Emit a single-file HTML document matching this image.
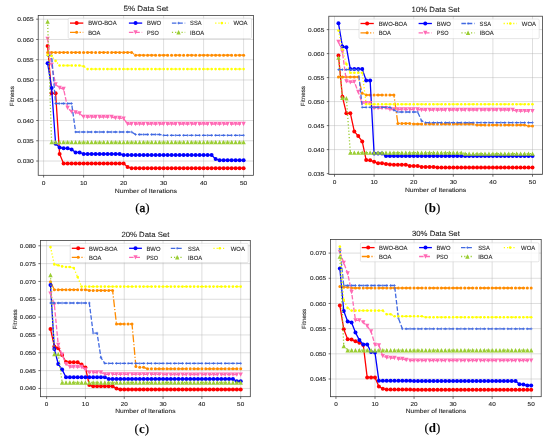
<!DOCTYPE html>
<html><head><meta charset="utf-8"><style>
html,body{margin:0;padding:0;background:#fff;}
svg{display:block;will-change:transform;}
text{font-family:"Liberation Sans",sans-serif;fill:#222;stroke:#222;stroke-width:0.09px;text-rendering:geometricPrecision;}
text.cap{font-family:"Liberation Serif",serif;fill:#000;stroke:#000;stroke-width:0.15px;}
</style></head><body>
<svg width="550" height="439" viewBox="0 0 550 439">
<path d="M43.60,15.60V175.30M83.60,15.60V175.30M123.60,15.60V175.30M163.60,15.60V175.30M203.60,15.60V175.30M243.60,15.60V175.30M38.20,161.02H253.60M38.20,140.76H253.60M38.20,120.50H253.60M38.20,100.24H253.60M38.20,79.98H253.60M38.20,59.72H253.60M38.20,39.46H253.60M38.20,19.20H253.60" stroke="#b0b0b0" stroke-opacity="0.7" stroke-width="0.6" fill="none"/>
<svg x="38.2" y="15.6" width="215.39999999999998" height="159.70000000000002" viewBox="38.2 15.6 215.39999999999998 159.70000000000002" overflow="hidden">
<polyline points="47.60,46.00 51.60,93.30 55.60,93.30 59.60,154.10 63.60,163.50 67.60,163.50 71.60,163.50 75.60,163.50 79.60,163.50 83.60,163.50 87.60,163.50 91.60,163.50 95.60,163.50 99.60,163.50 103.60,163.50 107.60,163.50 111.60,163.50 115.60,163.50 119.60,163.50 123.60,163.50 127.60,167.00 131.60,168.20 135.60,168.20 139.60,168.20 143.60,168.20 147.60,168.20 151.60,168.20 155.60,168.20 159.60,168.20 163.60,168.20 167.60,168.20 171.60,168.20 175.60,168.20 179.60,168.20 183.60,168.20 187.60,168.20 191.60,168.20 195.60,168.20 199.60,168.20 203.60,168.20 207.60,168.20 211.60,168.20 215.60,168.20 219.60,168.20 223.60,168.20 227.60,168.20 231.60,168.20 235.60,168.20 239.60,168.20 243.60,168.20" fill="none" stroke="#ff0000" stroke-width="1.3" stroke-linejoin="round"/>
<circle cx="47.60" cy="46.00" r="2.0" fill="#ff0000"/><circle cx="51.60" cy="93.30" r="2.0" fill="#ff0000"/><circle cx="55.60" cy="93.30" r="2.0" fill="#ff0000"/><circle cx="59.60" cy="154.10" r="2.0" fill="#ff0000"/><circle cx="63.60" cy="163.50" r="2.0" fill="#ff0000"/><circle cx="67.60" cy="163.50" r="2.0" fill="#ff0000"/><circle cx="71.60" cy="163.50" r="2.0" fill="#ff0000"/><circle cx="75.60" cy="163.50" r="2.0" fill="#ff0000"/><circle cx="79.60" cy="163.50" r="2.0" fill="#ff0000"/><circle cx="83.60" cy="163.50" r="2.0" fill="#ff0000"/><circle cx="87.60" cy="163.50" r="2.0" fill="#ff0000"/><circle cx="91.60" cy="163.50" r="2.0" fill="#ff0000"/><circle cx="95.60" cy="163.50" r="2.0" fill="#ff0000"/><circle cx="99.60" cy="163.50" r="2.0" fill="#ff0000"/><circle cx="103.60" cy="163.50" r="2.0" fill="#ff0000"/><circle cx="107.60" cy="163.50" r="2.0" fill="#ff0000"/><circle cx="111.60" cy="163.50" r="2.0" fill="#ff0000"/><circle cx="115.60" cy="163.50" r="2.0" fill="#ff0000"/><circle cx="119.60" cy="163.50" r="2.0" fill="#ff0000"/><circle cx="123.60" cy="163.50" r="2.0" fill="#ff0000"/><circle cx="127.60" cy="167.00" r="2.0" fill="#ff0000"/><circle cx="131.60" cy="168.20" r="2.0" fill="#ff0000"/><circle cx="135.60" cy="168.20" r="2.0" fill="#ff0000"/><circle cx="139.60" cy="168.20" r="2.0" fill="#ff0000"/><circle cx="143.60" cy="168.20" r="2.0" fill="#ff0000"/><circle cx="147.60" cy="168.20" r="2.0" fill="#ff0000"/><circle cx="151.60" cy="168.20" r="2.0" fill="#ff0000"/><circle cx="155.60" cy="168.20" r="2.0" fill="#ff0000"/><circle cx="159.60" cy="168.20" r="2.0" fill="#ff0000"/><circle cx="163.60" cy="168.20" r="2.0" fill="#ff0000"/><circle cx="167.60" cy="168.20" r="2.0" fill="#ff0000"/><circle cx="171.60" cy="168.20" r="2.0" fill="#ff0000"/><circle cx="175.60" cy="168.20" r="2.0" fill="#ff0000"/><circle cx="179.60" cy="168.20" r="2.0" fill="#ff0000"/><circle cx="183.60" cy="168.20" r="2.0" fill="#ff0000"/><circle cx="187.60" cy="168.20" r="2.0" fill="#ff0000"/><circle cx="191.60" cy="168.20" r="2.0" fill="#ff0000"/><circle cx="195.60" cy="168.20" r="2.0" fill="#ff0000"/><circle cx="199.60" cy="168.20" r="2.0" fill="#ff0000"/><circle cx="203.60" cy="168.20" r="2.0" fill="#ff0000"/><circle cx="207.60" cy="168.20" r="2.0" fill="#ff0000"/><circle cx="211.60" cy="168.20" r="2.0" fill="#ff0000"/><circle cx="215.60" cy="168.20" r="2.0" fill="#ff0000"/><circle cx="219.60" cy="168.20" r="2.0" fill="#ff0000"/><circle cx="223.60" cy="168.20" r="2.0" fill="#ff0000"/><circle cx="227.60" cy="168.20" r="2.0" fill="#ff0000"/><circle cx="231.60" cy="168.20" r="2.0" fill="#ff0000"/><circle cx="235.60" cy="168.20" r="2.0" fill="#ff0000"/><circle cx="239.60" cy="168.20" r="2.0" fill="#ff0000"/><circle cx="243.60" cy="168.20" r="2.0" fill="#ff0000"/>
<polyline points="47.60,52.40 51.60,52.40 55.60,52.40 59.60,52.40 63.60,52.40 67.60,52.40 71.60,52.40 75.60,52.40 79.60,52.40 83.60,52.40 87.60,52.40 91.60,52.40 95.60,52.40 99.60,52.40 103.60,52.40 107.60,52.40 111.60,52.40 115.60,52.40 119.60,52.40 123.60,52.40 127.60,52.40 131.60,52.40 135.60,55.20 139.60,55.20 143.60,55.20 147.60,55.20 151.60,55.20 155.60,55.20 159.60,55.20 163.60,55.20 167.60,55.20 171.60,55.20 175.60,55.20 179.60,55.20 183.60,55.20 187.60,55.20 191.60,55.20 195.60,55.20 199.60,55.20 203.60,55.20 207.60,55.20 211.60,55.20 215.60,55.20 219.60,55.20 223.60,55.20 227.60,55.20 231.60,55.20 235.60,55.20 239.60,55.20 243.60,55.20" fill="none" stroke="#ff8c00" stroke-width="1.3" stroke-dasharray="7.7,1.9,1.2,1.9" stroke-linejoin="round"/>
<circle cx="47.60" cy="52.40" r="1.5" fill="#ff8c00"/><circle cx="51.60" cy="52.40" r="1.5" fill="#ff8c00"/><circle cx="55.60" cy="52.40" r="1.5" fill="#ff8c00"/><circle cx="59.60" cy="52.40" r="1.5" fill="#ff8c00"/><circle cx="63.60" cy="52.40" r="1.5" fill="#ff8c00"/><circle cx="67.60" cy="52.40" r="1.5" fill="#ff8c00"/><circle cx="71.60" cy="52.40" r="1.5" fill="#ff8c00"/><circle cx="75.60" cy="52.40" r="1.5" fill="#ff8c00"/><circle cx="79.60" cy="52.40" r="1.5" fill="#ff8c00"/><circle cx="83.60" cy="52.40" r="1.5" fill="#ff8c00"/><circle cx="87.60" cy="52.40" r="1.5" fill="#ff8c00"/><circle cx="91.60" cy="52.40" r="1.5" fill="#ff8c00"/><circle cx="95.60" cy="52.40" r="1.5" fill="#ff8c00"/><circle cx="99.60" cy="52.40" r="1.5" fill="#ff8c00"/><circle cx="103.60" cy="52.40" r="1.5" fill="#ff8c00"/><circle cx="107.60" cy="52.40" r="1.5" fill="#ff8c00"/><circle cx="111.60" cy="52.40" r="1.5" fill="#ff8c00"/><circle cx="115.60" cy="52.40" r="1.5" fill="#ff8c00"/><circle cx="119.60" cy="52.40" r="1.5" fill="#ff8c00"/><circle cx="123.60" cy="52.40" r="1.5" fill="#ff8c00"/><circle cx="127.60" cy="52.40" r="1.5" fill="#ff8c00"/><circle cx="131.60" cy="52.40" r="1.5" fill="#ff8c00"/><circle cx="135.60" cy="55.20" r="1.5" fill="#ff8c00"/><circle cx="139.60" cy="55.20" r="1.5" fill="#ff8c00"/><circle cx="143.60" cy="55.20" r="1.5" fill="#ff8c00"/><circle cx="147.60" cy="55.20" r="1.5" fill="#ff8c00"/><circle cx="151.60" cy="55.20" r="1.5" fill="#ff8c00"/><circle cx="155.60" cy="55.20" r="1.5" fill="#ff8c00"/><circle cx="159.60" cy="55.20" r="1.5" fill="#ff8c00"/><circle cx="163.60" cy="55.20" r="1.5" fill="#ff8c00"/><circle cx="167.60" cy="55.20" r="1.5" fill="#ff8c00"/><circle cx="171.60" cy="55.20" r="1.5" fill="#ff8c00"/><circle cx="175.60" cy="55.20" r="1.5" fill="#ff8c00"/><circle cx="179.60" cy="55.20" r="1.5" fill="#ff8c00"/><circle cx="183.60" cy="55.20" r="1.5" fill="#ff8c00"/><circle cx="187.60" cy="55.20" r="1.5" fill="#ff8c00"/><circle cx="191.60" cy="55.20" r="1.5" fill="#ff8c00"/><circle cx="195.60" cy="55.20" r="1.5" fill="#ff8c00"/><circle cx="199.60" cy="55.20" r="1.5" fill="#ff8c00"/><circle cx="203.60" cy="55.20" r="1.5" fill="#ff8c00"/><circle cx="207.60" cy="55.20" r="1.5" fill="#ff8c00"/><circle cx="211.60" cy="55.20" r="1.5" fill="#ff8c00"/><circle cx="215.60" cy="55.20" r="1.5" fill="#ff8c00"/><circle cx="219.60" cy="55.20" r="1.5" fill="#ff8c00"/><circle cx="223.60" cy="55.20" r="1.5" fill="#ff8c00"/><circle cx="227.60" cy="55.20" r="1.5" fill="#ff8c00"/><circle cx="231.60" cy="55.20" r="1.5" fill="#ff8c00"/><circle cx="235.60" cy="55.20" r="1.5" fill="#ff8c00"/><circle cx="239.60" cy="55.20" r="1.5" fill="#ff8c00"/><circle cx="243.60" cy="55.20" r="1.5" fill="#ff8c00"/>
<polyline points="47.60,63.20 51.60,87.90 55.60,143.70 59.60,147.50 63.60,148.30 67.60,148.30 71.60,149.50 75.60,152.40 79.60,152.40 83.60,154.00 87.60,154.00 91.60,154.00 95.60,154.00 99.60,154.00 103.60,154.00 107.60,154.00 111.60,154.00 115.60,154.00 119.60,154.00 123.60,155.10 127.60,155.10 131.60,155.10 135.60,155.10 139.60,155.10 143.60,155.10 147.60,155.10 151.60,155.10 155.60,155.10 159.60,155.10 163.60,155.10 167.60,155.10 171.60,155.10 175.60,155.10 179.60,155.10 183.60,155.10 187.60,155.10 191.60,155.10 195.60,155.10 199.60,155.10 203.60,155.10 207.60,155.10 211.60,155.10 215.60,159.00 219.60,160.20 223.60,160.20 227.60,160.20 231.60,160.20 235.60,160.20 239.60,160.20 243.60,160.20" fill="none" stroke="#0000ff" stroke-width="1.3" stroke-linejoin="round"/>
<circle cx="47.60" cy="63.20" r="2.0" fill="#0000ff"/><circle cx="51.60" cy="87.90" r="2.0" fill="#0000ff"/><circle cx="55.60" cy="143.70" r="2.0" fill="#0000ff"/><circle cx="59.60" cy="147.50" r="2.0" fill="#0000ff"/><circle cx="63.60" cy="148.30" r="2.0" fill="#0000ff"/><circle cx="67.60" cy="148.30" r="2.0" fill="#0000ff"/><circle cx="71.60" cy="149.50" r="2.0" fill="#0000ff"/><circle cx="75.60" cy="152.40" r="2.0" fill="#0000ff"/><circle cx="79.60" cy="152.40" r="2.0" fill="#0000ff"/><circle cx="83.60" cy="154.00" r="2.0" fill="#0000ff"/><circle cx="87.60" cy="154.00" r="2.0" fill="#0000ff"/><circle cx="91.60" cy="154.00" r="2.0" fill="#0000ff"/><circle cx="95.60" cy="154.00" r="2.0" fill="#0000ff"/><circle cx="99.60" cy="154.00" r="2.0" fill="#0000ff"/><circle cx="103.60" cy="154.00" r="2.0" fill="#0000ff"/><circle cx="107.60" cy="154.00" r="2.0" fill="#0000ff"/><circle cx="111.60" cy="154.00" r="2.0" fill="#0000ff"/><circle cx="115.60" cy="154.00" r="2.0" fill="#0000ff"/><circle cx="119.60" cy="154.00" r="2.0" fill="#0000ff"/><circle cx="123.60" cy="155.10" r="2.0" fill="#0000ff"/><circle cx="127.60" cy="155.10" r="2.0" fill="#0000ff"/><circle cx="131.60" cy="155.10" r="2.0" fill="#0000ff"/><circle cx="135.60" cy="155.10" r="2.0" fill="#0000ff"/><circle cx="139.60" cy="155.10" r="2.0" fill="#0000ff"/><circle cx="143.60" cy="155.10" r="2.0" fill="#0000ff"/><circle cx="147.60" cy="155.10" r="2.0" fill="#0000ff"/><circle cx="151.60" cy="155.10" r="2.0" fill="#0000ff"/><circle cx="155.60" cy="155.10" r="2.0" fill="#0000ff"/><circle cx="159.60" cy="155.10" r="2.0" fill="#0000ff"/><circle cx="163.60" cy="155.10" r="2.0" fill="#0000ff"/><circle cx="167.60" cy="155.10" r="2.0" fill="#0000ff"/><circle cx="171.60" cy="155.10" r="2.0" fill="#0000ff"/><circle cx="175.60" cy="155.10" r="2.0" fill="#0000ff"/><circle cx="179.60" cy="155.10" r="2.0" fill="#0000ff"/><circle cx="183.60" cy="155.10" r="2.0" fill="#0000ff"/><circle cx="187.60" cy="155.10" r="2.0" fill="#0000ff"/><circle cx="191.60" cy="155.10" r="2.0" fill="#0000ff"/><circle cx="195.60" cy="155.10" r="2.0" fill="#0000ff"/><circle cx="199.60" cy="155.10" r="2.0" fill="#0000ff"/><circle cx="203.60" cy="155.10" r="2.0" fill="#0000ff"/><circle cx="207.60" cy="155.10" r="2.0" fill="#0000ff"/><circle cx="211.60" cy="155.10" r="2.0" fill="#0000ff"/><circle cx="215.60" cy="159.00" r="2.0" fill="#0000ff"/><circle cx="219.60" cy="160.20" r="2.0" fill="#0000ff"/><circle cx="223.60" cy="160.20" r="2.0" fill="#0000ff"/><circle cx="227.60" cy="160.20" r="2.0" fill="#0000ff"/><circle cx="231.60" cy="160.20" r="2.0" fill="#0000ff"/><circle cx="235.60" cy="160.20" r="2.0" fill="#0000ff"/><circle cx="239.60" cy="160.20" r="2.0" fill="#0000ff"/><circle cx="243.60" cy="160.20" r="2.0" fill="#0000ff"/>
<polyline points="47.60,39.00 51.60,65.00 55.60,84.40 59.60,87.90 63.60,89.00 67.60,107.80 71.60,111.80 75.60,112.50 79.60,113.50 83.60,117.00 87.60,117.00 91.60,117.00 95.60,117.00 99.60,117.00 103.60,117.00 107.60,117.00 111.60,117.00 115.60,118.00 119.60,118.00 123.60,118.60 127.60,124.00 131.60,124.00 135.60,124.00 139.60,124.00 143.60,124.00 147.60,124.00 151.60,124.00 155.60,124.00 159.60,124.00 163.60,124.00 167.60,124.00 171.60,124.00 175.60,124.00 179.60,124.00 183.60,124.00 187.60,124.00 191.60,124.00 195.60,124.00 199.60,124.00 203.60,124.00 207.60,124.00 211.60,124.00 215.60,124.00 219.60,124.00 223.60,124.00 227.60,124.00 231.60,124.00 235.60,124.00 239.60,124.00 243.60,124.00" fill="none" stroke="#ff69b4" stroke-width="1.3" stroke-dasharray="4.5,1.9" stroke-linejoin="round"/>
<path d="M47.60,41.15L45.45,36.85L49.75,36.85Z" fill="#ff69b4"/><path d="M51.60,67.15L49.45,62.85L53.75,62.85Z" fill="#ff69b4"/><path d="M55.60,86.55L53.45,82.25L57.75,82.25Z" fill="#ff69b4"/><path d="M59.60,90.05L57.45,85.75L61.75,85.75Z" fill="#ff69b4"/><path d="M63.60,91.15L61.45,86.85L65.75,86.85Z" fill="#ff69b4"/><path d="M67.60,109.95L65.45,105.65L69.75,105.65Z" fill="#ff69b4"/><path d="M71.60,113.95L69.45,109.65L73.75,109.65Z" fill="#ff69b4"/><path d="M75.60,114.65L73.45,110.35L77.75,110.35Z" fill="#ff69b4"/><path d="M79.60,115.65L77.45,111.35L81.75,111.35Z" fill="#ff69b4"/><path d="M83.60,119.15L81.45,114.85L85.75,114.85Z" fill="#ff69b4"/><path d="M87.60,119.15L85.45,114.85L89.75,114.85Z" fill="#ff69b4"/><path d="M91.60,119.15L89.45,114.85L93.75,114.85Z" fill="#ff69b4"/><path d="M95.60,119.15L93.45,114.85L97.75,114.85Z" fill="#ff69b4"/><path d="M99.60,119.15L97.45,114.85L101.75,114.85Z" fill="#ff69b4"/><path d="M103.60,119.15L101.45,114.85L105.75,114.85Z" fill="#ff69b4"/><path d="M107.60,119.15L105.45,114.85L109.75,114.85Z" fill="#ff69b4"/><path d="M111.60,119.15L109.45,114.85L113.75,114.85Z" fill="#ff69b4"/><path d="M115.60,120.15L113.45,115.85L117.75,115.85Z" fill="#ff69b4"/><path d="M119.60,120.15L117.45,115.85L121.75,115.85Z" fill="#ff69b4"/><path d="M123.60,120.75L121.45,116.45L125.75,116.45Z" fill="#ff69b4"/><path d="M127.60,126.15L125.45,121.85L129.75,121.85Z" fill="#ff69b4"/><path d="M131.60,126.15L129.45,121.85L133.75,121.85Z" fill="#ff69b4"/><path d="M135.60,126.15L133.45,121.85L137.75,121.85Z" fill="#ff69b4"/><path d="M139.60,126.15L137.45,121.85L141.75,121.85Z" fill="#ff69b4"/><path d="M143.60,126.15L141.45,121.85L145.75,121.85Z" fill="#ff69b4"/><path d="M147.60,126.15L145.45,121.85L149.75,121.85Z" fill="#ff69b4"/><path d="M151.60,126.15L149.45,121.85L153.75,121.85Z" fill="#ff69b4"/><path d="M155.60,126.15L153.45,121.85L157.75,121.85Z" fill="#ff69b4"/><path d="M159.60,126.15L157.45,121.85L161.75,121.85Z" fill="#ff69b4"/><path d="M163.60,126.15L161.45,121.85L165.75,121.85Z" fill="#ff69b4"/><path d="M167.60,126.15L165.45,121.85L169.75,121.85Z" fill="#ff69b4"/><path d="M171.60,126.15L169.45,121.85L173.75,121.85Z" fill="#ff69b4"/><path d="M175.60,126.15L173.45,121.85L177.75,121.85Z" fill="#ff69b4"/><path d="M179.60,126.15L177.45,121.85L181.75,121.85Z" fill="#ff69b4"/><path d="M183.60,126.15L181.45,121.85L185.75,121.85Z" fill="#ff69b4"/><path d="M187.60,126.15L185.45,121.85L189.75,121.85Z" fill="#ff69b4"/><path d="M191.60,126.15L189.45,121.85L193.75,121.85Z" fill="#ff69b4"/><path d="M195.60,126.15L193.45,121.85L197.75,121.85Z" fill="#ff69b4"/><path d="M199.60,126.15L197.45,121.85L201.75,121.85Z" fill="#ff69b4"/><path d="M203.60,126.15L201.45,121.85L205.75,121.85Z" fill="#ff69b4"/><path d="M207.60,126.15L205.45,121.85L209.75,121.85Z" fill="#ff69b4"/><path d="M211.60,126.15L209.45,121.85L213.75,121.85Z" fill="#ff69b4"/><path d="M215.60,126.15L213.45,121.85L217.75,121.85Z" fill="#ff69b4"/><path d="M219.60,126.15L217.45,121.85L221.75,121.85Z" fill="#ff69b4"/><path d="M223.60,126.15L221.45,121.85L225.75,121.85Z" fill="#ff69b4"/><path d="M227.60,126.15L225.45,121.85L229.75,121.85Z" fill="#ff69b4"/><path d="M231.60,126.15L229.45,121.85L233.75,121.85Z" fill="#ff69b4"/><path d="M235.60,126.15L233.45,121.85L237.75,121.85Z" fill="#ff69b4"/><path d="M239.60,126.15L237.45,121.85L241.75,121.85Z" fill="#ff69b4"/><path d="M243.60,126.15L241.45,121.85L245.75,121.85Z" fill="#ff69b4"/>
<polyline points="47.60,55.50 51.60,55.50 55.60,103.50 59.60,103.50 63.60,103.50 67.60,103.50 71.60,103.50 75.60,132.00 79.60,132.00 83.60,132.00 87.60,132.00 91.60,132.00 95.60,132.00 99.60,132.00 103.60,132.00 107.60,132.00 111.60,132.00 115.60,132.00 119.60,132.00 123.60,132.00 127.60,132.00 131.60,132.00 135.60,134.50 139.60,134.50 143.60,134.50 147.60,134.50 151.60,134.50 155.60,134.50 159.60,134.50 163.60,135.30 167.60,135.30 171.60,135.30 175.60,135.30 179.60,135.30 183.60,135.30 187.60,135.30 191.60,135.30 195.60,135.30 199.60,135.30 203.60,135.30 207.60,135.30 211.60,135.30 215.60,135.30 219.60,135.30 223.60,135.30 227.60,135.30 231.60,135.30 235.60,135.30 239.60,135.30 243.60,135.30" fill="none" stroke="#4169e1" stroke-width="1.3" stroke-dasharray="4.5,1.9" stroke-linejoin="round"/>
<path d="M46.30,55.50H48.90M47.60,54.20V56.80" stroke="#4169e1" stroke-width="0.7" fill="none"/><path d="M50.30,55.50H52.90M51.60,54.20V56.80" stroke="#4169e1" stroke-width="0.7" fill="none"/><path d="M54.30,103.50H56.90M55.60,102.20V104.80" stroke="#4169e1" stroke-width="0.7" fill="none"/><path d="M58.30,103.50H60.90M59.60,102.20V104.80" stroke="#4169e1" stroke-width="0.7" fill="none"/><path d="M62.30,103.50H64.90M63.60,102.20V104.80" stroke="#4169e1" stroke-width="0.7" fill="none"/><path d="M66.30,103.50H68.90M67.60,102.20V104.80" stroke="#4169e1" stroke-width="0.7" fill="none"/><path d="M70.30,103.50H72.90M71.60,102.20V104.80" stroke="#4169e1" stroke-width="0.7" fill="none"/><path d="M74.30,132.00H76.90M75.60,130.70V133.30" stroke="#4169e1" stroke-width="0.7" fill="none"/><path d="M78.30,132.00H80.90M79.60,130.70V133.30" stroke="#4169e1" stroke-width="0.7" fill="none"/><path d="M82.30,132.00H84.90M83.60,130.70V133.30" stroke="#4169e1" stroke-width="0.7" fill="none"/><path d="M86.30,132.00H88.90M87.60,130.70V133.30" stroke="#4169e1" stroke-width="0.7" fill="none"/><path d="M90.30,132.00H92.90M91.60,130.70V133.30" stroke="#4169e1" stroke-width="0.7" fill="none"/><path d="M94.30,132.00H96.90M95.60,130.70V133.30" stroke="#4169e1" stroke-width="0.7" fill="none"/><path d="M98.30,132.00H100.90M99.60,130.70V133.30" stroke="#4169e1" stroke-width="0.7" fill="none"/><path d="M102.30,132.00H104.90M103.60,130.70V133.30" stroke="#4169e1" stroke-width="0.7" fill="none"/><path d="M106.30,132.00H108.90M107.60,130.70V133.30" stroke="#4169e1" stroke-width="0.7" fill="none"/><path d="M110.30,132.00H112.90M111.60,130.70V133.30" stroke="#4169e1" stroke-width="0.7" fill="none"/><path d="M114.30,132.00H116.90M115.60,130.70V133.30" stroke="#4169e1" stroke-width="0.7" fill="none"/><path d="M118.30,132.00H120.90M119.60,130.70V133.30" stroke="#4169e1" stroke-width="0.7" fill="none"/><path d="M122.30,132.00H124.90M123.60,130.70V133.30" stroke="#4169e1" stroke-width="0.7" fill="none"/><path d="M126.30,132.00H128.90M127.60,130.70V133.30" stroke="#4169e1" stroke-width="0.7" fill="none"/><path d="M130.30,132.00H132.90M131.60,130.70V133.30" stroke="#4169e1" stroke-width="0.7" fill="none"/><path d="M134.30,134.50H136.90M135.60,133.20V135.80" stroke="#4169e1" stroke-width="0.7" fill="none"/><path d="M138.30,134.50H140.90M139.60,133.20V135.80" stroke="#4169e1" stroke-width="0.7" fill="none"/><path d="M142.30,134.50H144.90M143.60,133.20V135.80" stroke="#4169e1" stroke-width="0.7" fill="none"/><path d="M146.30,134.50H148.90M147.60,133.20V135.80" stroke="#4169e1" stroke-width="0.7" fill="none"/><path d="M150.30,134.50H152.90M151.60,133.20V135.80" stroke="#4169e1" stroke-width="0.7" fill="none"/><path d="M154.30,134.50H156.90M155.60,133.20V135.80" stroke="#4169e1" stroke-width="0.7" fill="none"/><path d="M158.30,134.50H160.90M159.60,133.20V135.80" stroke="#4169e1" stroke-width="0.7" fill="none"/><path d="M162.30,135.30H164.90M163.60,134.00V136.60" stroke="#4169e1" stroke-width="0.7" fill="none"/><path d="M166.30,135.30H168.90M167.60,134.00V136.60" stroke="#4169e1" stroke-width="0.7" fill="none"/><path d="M170.30,135.30H172.90M171.60,134.00V136.60" stroke="#4169e1" stroke-width="0.7" fill="none"/><path d="M174.30,135.30H176.90M175.60,134.00V136.60" stroke="#4169e1" stroke-width="0.7" fill="none"/><path d="M178.30,135.30H180.90M179.60,134.00V136.60" stroke="#4169e1" stroke-width="0.7" fill="none"/><path d="M182.30,135.30H184.90M183.60,134.00V136.60" stroke="#4169e1" stroke-width="0.7" fill="none"/><path d="M186.30,135.30H188.90M187.60,134.00V136.60" stroke="#4169e1" stroke-width="0.7" fill="none"/><path d="M190.30,135.30H192.90M191.60,134.00V136.60" stroke="#4169e1" stroke-width="0.7" fill="none"/><path d="M194.30,135.30H196.90M195.60,134.00V136.60" stroke="#4169e1" stroke-width="0.7" fill="none"/><path d="M198.30,135.30H200.90M199.60,134.00V136.60" stroke="#4169e1" stroke-width="0.7" fill="none"/><path d="M202.30,135.30H204.90M203.60,134.00V136.60" stroke="#4169e1" stroke-width="0.7" fill="none"/><path d="M206.30,135.30H208.90M207.60,134.00V136.60" stroke="#4169e1" stroke-width="0.7" fill="none"/><path d="M210.30,135.30H212.90M211.60,134.00V136.60" stroke="#4169e1" stroke-width="0.7" fill="none"/><path d="M214.30,135.30H216.90M215.60,134.00V136.60" stroke="#4169e1" stroke-width="0.7" fill="none"/><path d="M218.30,135.30H220.90M219.60,134.00V136.60" stroke="#4169e1" stroke-width="0.7" fill="none"/><path d="M222.30,135.30H224.90M223.60,134.00V136.60" stroke="#4169e1" stroke-width="0.7" fill="none"/><path d="M226.30,135.30H228.90M227.60,134.00V136.60" stroke="#4169e1" stroke-width="0.7" fill="none"/><path d="M230.30,135.30H232.90M231.60,134.00V136.60" stroke="#4169e1" stroke-width="0.7" fill="none"/><path d="M234.30,135.30H236.90M235.60,134.00V136.60" stroke="#4169e1" stroke-width="0.7" fill="none"/><path d="M238.30,135.30H240.90M239.60,134.00V136.60" stroke="#4169e1" stroke-width="0.7" fill="none"/><path d="M242.30,135.30H244.90M243.60,134.00V136.60" stroke="#4169e1" stroke-width="0.7" fill="none"/>
<polyline points="47.60,21.50 51.60,142.10 55.60,142.10 59.60,142.10 63.60,142.10 67.60,142.10 71.60,142.10 75.60,142.10 79.60,142.10 83.60,142.10 87.60,142.10 91.60,142.10 95.60,142.10 99.60,142.10 103.60,142.10 107.60,142.10 111.60,142.10 115.60,142.10 119.60,142.10 123.60,142.10 127.60,142.10 131.60,142.10 135.60,142.10 139.60,142.10 143.60,142.10 147.60,142.10 151.60,142.10 155.60,142.10 159.60,142.10 163.60,142.10 167.60,142.10 171.60,142.10 175.60,142.10 179.60,142.10 183.60,142.10 187.60,142.10 191.60,142.10 195.60,142.10 199.60,142.10 203.60,142.10 207.60,142.10 211.60,142.10 215.60,142.10 219.60,142.10 223.60,142.10 227.60,142.10 231.60,142.10 235.60,142.10 239.60,142.10 243.60,142.10" fill="none" stroke="#9acd32" stroke-width="1.3" stroke-dasharray="1.2,2.0" stroke-linejoin="round"/>
<path d="M47.60,19.30L45.40,23.70L49.80,23.70Z" fill="#9acd32"/><path d="M51.60,139.90L49.40,144.30L53.80,144.30Z" fill="#9acd32"/><path d="M55.60,139.90L53.40,144.30L57.80,144.30Z" fill="#9acd32"/><path d="M59.60,139.90L57.40,144.30L61.80,144.30Z" fill="#9acd32"/><path d="M63.60,139.90L61.40,144.30L65.80,144.30Z" fill="#9acd32"/><path d="M67.60,139.90L65.40,144.30L69.80,144.30Z" fill="#9acd32"/><path d="M71.60,139.90L69.40,144.30L73.80,144.30Z" fill="#9acd32"/><path d="M75.60,139.90L73.40,144.30L77.80,144.30Z" fill="#9acd32"/><path d="M79.60,139.90L77.40,144.30L81.80,144.30Z" fill="#9acd32"/><path d="M83.60,139.90L81.40,144.30L85.80,144.30Z" fill="#9acd32"/><path d="M87.60,139.90L85.40,144.30L89.80,144.30Z" fill="#9acd32"/><path d="M91.60,139.90L89.40,144.30L93.80,144.30Z" fill="#9acd32"/><path d="M95.60,139.90L93.40,144.30L97.80,144.30Z" fill="#9acd32"/><path d="M99.60,139.90L97.40,144.30L101.80,144.30Z" fill="#9acd32"/><path d="M103.60,139.90L101.40,144.30L105.80,144.30Z" fill="#9acd32"/><path d="M107.60,139.90L105.40,144.30L109.80,144.30Z" fill="#9acd32"/><path d="M111.60,139.90L109.40,144.30L113.80,144.30Z" fill="#9acd32"/><path d="M115.60,139.90L113.40,144.30L117.80,144.30Z" fill="#9acd32"/><path d="M119.60,139.90L117.40,144.30L121.80,144.30Z" fill="#9acd32"/><path d="M123.60,139.90L121.40,144.30L125.80,144.30Z" fill="#9acd32"/><path d="M127.60,139.90L125.40,144.30L129.80,144.30Z" fill="#9acd32"/><path d="M131.60,139.90L129.40,144.30L133.80,144.30Z" fill="#9acd32"/><path d="M135.60,139.90L133.40,144.30L137.80,144.30Z" fill="#9acd32"/><path d="M139.60,139.90L137.40,144.30L141.80,144.30Z" fill="#9acd32"/><path d="M143.60,139.90L141.40,144.30L145.80,144.30Z" fill="#9acd32"/><path d="M147.60,139.90L145.40,144.30L149.80,144.30Z" fill="#9acd32"/><path d="M151.60,139.90L149.40,144.30L153.80,144.30Z" fill="#9acd32"/><path d="M155.60,139.90L153.40,144.30L157.80,144.30Z" fill="#9acd32"/><path d="M159.60,139.90L157.40,144.30L161.80,144.30Z" fill="#9acd32"/><path d="M163.60,139.90L161.40,144.30L165.80,144.30Z" fill="#9acd32"/><path d="M167.60,139.90L165.40,144.30L169.80,144.30Z" fill="#9acd32"/><path d="M171.60,139.90L169.40,144.30L173.80,144.30Z" fill="#9acd32"/><path d="M175.60,139.90L173.40,144.30L177.80,144.30Z" fill="#9acd32"/><path d="M179.60,139.90L177.40,144.30L181.80,144.30Z" fill="#9acd32"/><path d="M183.60,139.90L181.40,144.30L185.80,144.30Z" fill="#9acd32"/><path d="M187.60,139.90L185.40,144.30L189.80,144.30Z" fill="#9acd32"/><path d="M191.60,139.90L189.40,144.30L193.80,144.30Z" fill="#9acd32"/><path d="M195.60,139.90L193.40,144.30L197.80,144.30Z" fill="#9acd32"/><path d="M199.60,139.90L197.40,144.30L201.80,144.30Z" fill="#9acd32"/><path d="M203.60,139.90L201.40,144.30L205.80,144.30Z" fill="#9acd32"/><path d="M207.60,139.90L205.40,144.30L209.80,144.30Z" fill="#9acd32"/><path d="M211.60,139.90L209.40,144.30L213.80,144.30Z" fill="#9acd32"/><path d="M215.60,139.90L213.40,144.30L217.80,144.30Z" fill="#9acd32"/><path d="M219.60,139.90L217.40,144.30L221.80,144.30Z" fill="#9acd32"/><path d="M223.60,139.90L221.40,144.30L225.80,144.30Z" fill="#9acd32"/><path d="M227.60,139.90L225.40,144.30L229.80,144.30Z" fill="#9acd32"/><path d="M231.60,139.90L229.40,144.30L233.80,144.30Z" fill="#9acd32"/><path d="M235.60,139.90L233.40,144.30L237.80,144.30Z" fill="#9acd32"/><path d="M239.60,139.90L237.40,144.30L241.80,144.30Z" fill="#9acd32"/><path d="M243.60,139.90L241.40,144.30L245.80,144.30Z" fill="#9acd32"/>
<polyline points="47.60,55.00 51.60,55.90 55.60,60.90 59.60,65.50 63.60,65.50 67.60,65.50 71.60,65.50 75.60,65.50 79.60,65.50 83.60,66.20 87.60,69.10 91.60,69.10 95.60,69.10 99.60,69.10 103.60,69.10 107.60,69.10 111.60,69.10 115.60,69.10 119.60,69.10 123.60,69.10 127.60,69.10 131.60,69.10 135.60,69.10 139.60,69.10 143.60,69.10 147.60,69.10 151.60,69.10 155.60,69.10 159.60,69.10 163.60,69.10 167.60,69.10 171.60,69.10 175.60,69.10 179.60,69.10 183.60,69.10 187.60,69.10 191.60,69.10 195.60,69.10 199.60,69.10 203.60,69.10 207.60,69.10 211.60,69.10 215.60,69.10 219.60,69.10 223.60,69.10 227.60,69.10 231.60,69.10 235.60,69.10 239.60,69.10 243.60,69.10" fill="none" stroke="#ffff00" stroke-width="1.3" stroke-dasharray="1.2,2.0" stroke-linejoin="round"/>
<circle cx="47.60" cy="55.00" r="1.3" fill="#ffff00"/><circle cx="51.60" cy="55.90" r="1.3" fill="#ffff00"/><circle cx="55.60" cy="60.90" r="1.3" fill="#ffff00"/><circle cx="59.60" cy="65.50" r="1.3" fill="#ffff00"/><circle cx="63.60" cy="65.50" r="1.3" fill="#ffff00"/><circle cx="67.60" cy="65.50" r="1.3" fill="#ffff00"/><circle cx="71.60" cy="65.50" r="1.3" fill="#ffff00"/><circle cx="75.60" cy="65.50" r="1.3" fill="#ffff00"/><circle cx="79.60" cy="65.50" r="1.3" fill="#ffff00"/><circle cx="83.60" cy="66.20" r="1.3" fill="#ffff00"/><circle cx="87.60" cy="69.10" r="1.3" fill="#ffff00"/><circle cx="91.60" cy="69.10" r="1.3" fill="#ffff00"/><circle cx="95.60" cy="69.10" r="1.3" fill="#ffff00"/><circle cx="99.60" cy="69.10" r="1.3" fill="#ffff00"/><circle cx="103.60" cy="69.10" r="1.3" fill="#ffff00"/><circle cx="107.60" cy="69.10" r="1.3" fill="#ffff00"/><circle cx="111.60" cy="69.10" r="1.3" fill="#ffff00"/><circle cx="115.60" cy="69.10" r="1.3" fill="#ffff00"/><circle cx="119.60" cy="69.10" r="1.3" fill="#ffff00"/><circle cx="123.60" cy="69.10" r="1.3" fill="#ffff00"/><circle cx="127.60" cy="69.10" r="1.3" fill="#ffff00"/><circle cx="131.60" cy="69.10" r="1.3" fill="#ffff00"/><circle cx="135.60" cy="69.10" r="1.3" fill="#ffff00"/><circle cx="139.60" cy="69.10" r="1.3" fill="#ffff00"/><circle cx="143.60" cy="69.10" r="1.3" fill="#ffff00"/><circle cx="147.60" cy="69.10" r="1.3" fill="#ffff00"/><circle cx="151.60" cy="69.10" r="1.3" fill="#ffff00"/><circle cx="155.60" cy="69.10" r="1.3" fill="#ffff00"/><circle cx="159.60" cy="69.10" r="1.3" fill="#ffff00"/><circle cx="163.60" cy="69.10" r="1.3" fill="#ffff00"/><circle cx="167.60" cy="69.10" r="1.3" fill="#ffff00"/><circle cx="171.60" cy="69.10" r="1.3" fill="#ffff00"/><circle cx="175.60" cy="69.10" r="1.3" fill="#ffff00"/><circle cx="179.60" cy="69.10" r="1.3" fill="#ffff00"/><circle cx="183.60" cy="69.10" r="1.3" fill="#ffff00"/><circle cx="187.60" cy="69.10" r="1.3" fill="#ffff00"/><circle cx="191.60" cy="69.10" r="1.3" fill="#ffff00"/><circle cx="195.60" cy="69.10" r="1.3" fill="#ffff00"/><circle cx="199.60" cy="69.10" r="1.3" fill="#ffff00"/><circle cx="203.60" cy="69.10" r="1.3" fill="#ffff00"/><circle cx="207.60" cy="69.10" r="1.3" fill="#ffff00"/><circle cx="211.60" cy="69.10" r="1.3" fill="#ffff00"/><circle cx="215.60" cy="69.10" r="1.3" fill="#ffff00"/><circle cx="219.60" cy="69.10" r="1.3" fill="#ffff00"/><circle cx="223.60" cy="69.10" r="1.3" fill="#ffff00"/><circle cx="227.60" cy="69.10" r="1.3" fill="#ffff00"/><circle cx="231.60" cy="69.10" r="1.3" fill="#ffff00"/><circle cx="235.60" cy="69.10" r="1.3" fill="#ffff00"/><circle cx="239.60" cy="69.10" r="1.3" fill="#ffff00"/><circle cx="243.60" cy="69.10" r="1.3" fill="#ffff00"/>
</svg>
<rect x="68.2" y="18.2" width="183.3" height="20.3" rx="1.2" fill="#fff" fill-opacity="0.8" stroke="#cccccc" stroke-width="0.5"/>
<path d="M70.00,23.10h13.3" stroke="#ff0000" stroke-width="1.3" fill="none"/>
<circle cx="76.65" cy="23.10" r="2.0" fill="#ff0000"/>
<text x="88.20" y="25.30" font-size="6.2" text-anchor="start" textLength="28.43" lengthAdjust="spacingAndGlyphs">BWO-BOA</text>
<path d="M70.00,32.30h13.3" stroke="#ff8c00" stroke-width="1.3" stroke-dasharray="7.7,1.9,1.2,1.9" fill="none"/>
<circle cx="76.65" cy="32.30" r="1.5" fill="#ff8c00"/>
<text x="88.20" y="34.50" font-size="6.2" text-anchor="start" textLength="12.31" lengthAdjust="spacingAndGlyphs">BOA</text>
<path d="M128.90,23.10h13.3" stroke="#0000ff" stroke-width="1.3" fill="none"/>
<circle cx="135.55" cy="23.10" r="2.0" fill="#0000ff"/>
<text x="147.10" y="25.30" font-size="6.2" text-anchor="start" textLength="14.07" lengthAdjust="spacingAndGlyphs">BWO</text>
<path d="M128.90,32.30h13.3" stroke="#ff69b4" stroke-width="1.3" stroke-dasharray="4.5,1.9" fill="none"/>
<path d="M135.55,34.45L133.40,30.15L137.70,30.15Z" fill="#ff69b4"/>
<text x="147.10" y="34.50" font-size="6.2" text-anchor="start" textLength="11.74" lengthAdjust="spacingAndGlyphs">PSO</text>
<path d="M171.90,23.10h13.3" stroke="#4169e1" stroke-width="1.3" stroke-dasharray="4.5,1.9" fill="none"/>
<path d="M177.25,23.10H179.85M178.55,21.80V24.40" stroke="#4169e1" stroke-width="0.7" fill="none"/>
<text x="190.10" y="25.30" font-size="6.2" text-anchor="start" textLength="11.44" lengthAdjust="spacingAndGlyphs">SSA</text>
<path d="M171.90,32.30h13.3" stroke="#9acd32" stroke-width="1.3" stroke-dasharray="1.2,2.0" fill="none"/>
<path d="M178.55,30.10L176.35,34.50L180.75,34.50Z" fill="#9acd32"/>
<text x="190.10" y="34.50" font-size="6.2" text-anchor="start" textLength="14.02" lengthAdjust="spacingAndGlyphs">IBOA</text>
<path d="M215.20,23.10h13.3" stroke="#ffff00" stroke-width="1.3" stroke-dasharray="1.2,2.0" fill="none"/>
<circle cx="221.85" cy="23.10" r="1.3" fill="#ffff00"/>
<text x="233.40" y="25.30" font-size="6.2" text-anchor="start" textLength="14.17" lengthAdjust="spacingAndGlyphs">WOA</text>
<rect x="38.2" y="15.6" width="215.40" height="159.70" fill="none" stroke="#333" stroke-width="0.75"/>
<path d="M43.60,175.30v2.2M83.60,175.30v2.2M123.60,175.30v2.2M163.60,175.30v2.2M203.60,175.30v2.2M243.60,175.30v2.2M38.20,161.02h-2.0M38.20,140.76h-2.0M38.20,120.50h-2.0M38.20,100.24h-2.0M38.20,79.98h-2.0M38.20,59.72h-2.0M38.20,39.46h-2.0M38.20,19.20h-2.0" stroke="#333" stroke-width="0.7" fill="none"/>
<text x="43.60" y="184.90" font-size="5.77" text-anchor="middle" textLength="3.67" lengthAdjust="spacingAndGlyphs">0</text>
<text x="83.60" y="184.90" font-size="5.77" text-anchor="middle" textLength="7.34" lengthAdjust="spacingAndGlyphs">10</text>
<text x="123.60" y="184.90" font-size="5.77" text-anchor="middle" textLength="7.34" lengthAdjust="spacingAndGlyphs">20</text>
<text x="163.60" y="184.90" font-size="5.77" text-anchor="middle" textLength="7.34" lengthAdjust="spacingAndGlyphs">30</text>
<text x="203.60" y="184.90" font-size="5.77" text-anchor="middle" textLength="7.34" lengthAdjust="spacingAndGlyphs">40</text>
<text x="243.60" y="184.90" font-size="5.77" text-anchor="middle" textLength="7.34" lengthAdjust="spacingAndGlyphs">50</text>
<text x="33.70" y="163.07" font-size="5.77" text-anchor="end" textLength="16.52" lengthAdjust="spacingAndGlyphs">0.030</text>
<text x="33.70" y="142.81" font-size="5.77" text-anchor="end" textLength="16.52" lengthAdjust="spacingAndGlyphs">0.035</text>
<text x="33.70" y="122.55" font-size="5.77" text-anchor="end" textLength="16.52" lengthAdjust="spacingAndGlyphs">0.040</text>
<text x="33.70" y="102.29" font-size="5.77" text-anchor="end" textLength="16.52" lengthAdjust="spacingAndGlyphs">0.045</text>
<text x="33.70" y="82.03" font-size="5.77" text-anchor="end" textLength="16.52" lengthAdjust="spacingAndGlyphs">0.050</text>
<text x="33.70" y="61.77" font-size="5.77" text-anchor="end" textLength="16.52" lengthAdjust="spacingAndGlyphs">0.055</text>
<text x="33.70" y="41.51" font-size="5.77" text-anchor="end" textLength="16.52" lengthAdjust="spacingAndGlyphs">0.060</text>
<text x="33.70" y="21.25" font-size="5.77" text-anchor="end" textLength="16.52" lengthAdjust="spacingAndGlyphs">0.065</text>
<text x="145.90" y="11.30" font-size="7.5" text-anchor="middle" textLength="44.83" lengthAdjust="spacingAndGlyphs">5% Data Set</text>
<text x="145.90" y="192.70" font-size="6.0" text-anchor="middle" textLength="62.28" lengthAdjust="spacingAndGlyphs">Number of Iterations</text>
<text x="0" y="0" font-size="6.0" text-anchor="middle" textLength="20.19" lengthAdjust="spacingAndGlyphs" transform="translate(13.70,96.25) rotate(-90)">Fitness</text>
<text x="142.40" y="211.80" font-size="13.0" text-anchor="middle" class="cap">(<tspan style="stroke-width:0.45px">a</tspan>)</text>
<path d="M334.50,16.20V174.50M374.10,16.20V174.50M413.70,16.20V174.50M453.30,16.20V174.50M492.90,16.20V174.50M532.50,16.20V174.50M328.80,173.60H542.40M328.80,149.60H542.40M328.80,125.60H542.40M328.80,101.60H542.40M328.80,77.60H542.40M328.80,53.60H542.40M328.80,29.60H542.40" stroke="#b0b0b0" stroke-opacity="0.7" stroke-width="0.6" fill="none"/>
<svg x="328.8" y="16.2" width="213.59999999999997" height="158.3" viewBox="328.8 16.2 213.59999999999997 158.3" overflow="hidden">
<polyline points="338.46,55.60 342.42,96.80 346.38,113.20 350.34,113.20 354.30,131.40 358.26,136.10 362.22,141.40 366.18,160.10 370.14,160.30 374.10,161.80 378.06,163.20 382.02,163.20 385.98,164.00 389.94,164.40 393.90,164.70 397.86,164.70 401.82,164.70 405.78,164.70 409.74,165.90 413.70,165.90 417.66,165.90 421.62,166.90 425.58,166.90 429.54,166.90 433.50,166.90 437.46,167.60 441.42,167.60 445.38,167.60 449.34,167.60 453.30,167.60 457.26,167.60 461.22,167.60 465.18,167.60 469.14,167.60 473.10,167.60 477.06,167.60 481.02,167.60 484.98,167.60 488.94,167.60 492.90,167.60 496.86,167.60 500.82,167.60 504.78,167.60 508.74,167.60 512.70,167.60 516.66,167.60 520.62,167.60 524.58,167.60 528.54,167.60 532.50,167.60" fill="none" stroke="#ff0000" stroke-width="1.3" stroke-linejoin="round"/>
<circle cx="338.46" cy="55.60" r="2.0" fill="#ff0000"/><circle cx="342.42" cy="96.80" r="2.0" fill="#ff0000"/><circle cx="346.38" cy="113.20" r="2.0" fill="#ff0000"/><circle cx="350.34" cy="113.20" r="2.0" fill="#ff0000"/><circle cx="354.30" cy="131.40" r="2.0" fill="#ff0000"/><circle cx="358.26" cy="136.10" r="2.0" fill="#ff0000"/><circle cx="362.22" cy="141.40" r="2.0" fill="#ff0000"/><circle cx="366.18" cy="160.10" r="2.0" fill="#ff0000"/><circle cx="370.14" cy="160.30" r="2.0" fill="#ff0000"/><circle cx="374.10" cy="161.80" r="2.0" fill="#ff0000"/><circle cx="378.06" cy="163.20" r="2.0" fill="#ff0000"/><circle cx="382.02" cy="163.20" r="2.0" fill="#ff0000"/><circle cx="385.98" cy="164.00" r="2.0" fill="#ff0000"/><circle cx="389.94" cy="164.40" r="2.0" fill="#ff0000"/><circle cx="393.90" cy="164.70" r="2.0" fill="#ff0000"/><circle cx="397.86" cy="164.70" r="2.0" fill="#ff0000"/><circle cx="401.82" cy="164.70" r="2.0" fill="#ff0000"/><circle cx="405.78" cy="164.70" r="2.0" fill="#ff0000"/><circle cx="409.74" cy="165.90" r="2.0" fill="#ff0000"/><circle cx="413.70" cy="165.90" r="2.0" fill="#ff0000"/><circle cx="417.66" cy="165.90" r="2.0" fill="#ff0000"/><circle cx="421.62" cy="166.90" r="2.0" fill="#ff0000"/><circle cx="425.58" cy="166.90" r="2.0" fill="#ff0000"/><circle cx="429.54" cy="166.90" r="2.0" fill="#ff0000"/><circle cx="433.50" cy="166.90" r="2.0" fill="#ff0000"/><circle cx="437.46" cy="167.60" r="2.0" fill="#ff0000"/><circle cx="441.42" cy="167.60" r="2.0" fill="#ff0000"/><circle cx="445.38" cy="167.60" r="2.0" fill="#ff0000"/><circle cx="449.34" cy="167.60" r="2.0" fill="#ff0000"/><circle cx="453.30" cy="167.60" r="2.0" fill="#ff0000"/><circle cx="457.26" cy="167.60" r="2.0" fill="#ff0000"/><circle cx="461.22" cy="167.60" r="2.0" fill="#ff0000"/><circle cx="465.18" cy="167.60" r="2.0" fill="#ff0000"/><circle cx="469.14" cy="167.60" r="2.0" fill="#ff0000"/><circle cx="473.10" cy="167.60" r="2.0" fill="#ff0000"/><circle cx="477.06" cy="167.60" r="2.0" fill="#ff0000"/><circle cx="481.02" cy="167.60" r="2.0" fill="#ff0000"/><circle cx="484.98" cy="167.60" r="2.0" fill="#ff0000"/><circle cx="488.94" cy="167.60" r="2.0" fill="#ff0000"/><circle cx="492.90" cy="167.60" r="2.0" fill="#ff0000"/><circle cx="496.86" cy="167.60" r="2.0" fill="#ff0000"/><circle cx="500.82" cy="167.60" r="2.0" fill="#ff0000"/><circle cx="504.78" cy="167.60" r="2.0" fill="#ff0000"/><circle cx="508.74" cy="167.60" r="2.0" fill="#ff0000"/><circle cx="512.70" cy="167.60" r="2.0" fill="#ff0000"/><circle cx="516.66" cy="167.60" r="2.0" fill="#ff0000"/><circle cx="520.62" cy="167.60" r="2.0" fill="#ff0000"/><circle cx="524.58" cy="167.60" r="2.0" fill="#ff0000"/><circle cx="528.54" cy="167.60" r="2.0" fill="#ff0000"/><circle cx="532.50" cy="167.60" r="2.0" fill="#ff0000"/>
<polyline points="338.46,77.00 342.42,77.00 346.38,77.00 350.34,77.00 354.30,77.00 358.26,77.00 362.22,93.30 366.18,95.00 370.14,95.00 374.10,95.00 378.06,95.00 382.02,95.00 385.98,95.00 389.94,95.00 393.90,95.00 397.86,123.40 401.82,123.40 405.78,123.40 409.74,123.40 413.70,124.00 417.66,124.00 421.62,124.00 425.58,124.00 429.54,124.00 433.50,124.00 437.46,124.00 441.42,124.00 445.38,124.00 449.34,124.00 453.30,124.00 457.26,124.00 461.22,124.00 465.18,124.00 469.14,124.00 473.10,124.00 477.06,125.00 481.02,125.00 484.98,125.00 488.94,125.00 492.90,125.00 496.86,125.00 500.82,125.00 504.78,125.00 508.74,125.00 512.70,125.00 516.66,125.00 520.62,125.00 524.58,125.00 528.54,126.10 532.50,126.10" fill="none" stroke="#ff8c00" stroke-width="1.3" stroke-dasharray="7.7,1.9,1.2,1.9" stroke-linejoin="round"/>
<circle cx="338.46" cy="77.00" r="1.5" fill="#ff8c00"/><circle cx="342.42" cy="77.00" r="1.5" fill="#ff8c00"/><circle cx="346.38" cy="77.00" r="1.5" fill="#ff8c00"/><circle cx="350.34" cy="77.00" r="1.5" fill="#ff8c00"/><circle cx="354.30" cy="77.00" r="1.5" fill="#ff8c00"/><circle cx="358.26" cy="77.00" r="1.5" fill="#ff8c00"/><circle cx="362.22" cy="93.30" r="1.5" fill="#ff8c00"/><circle cx="366.18" cy="95.00" r="1.5" fill="#ff8c00"/><circle cx="370.14" cy="95.00" r="1.5" fill="#ff8c00"/><circle cx="374.10" cy="95.00" r="1.5" fill="#ff8c00"/><circle cx="378.06" cy="95.00" r="1.5" fill="#ff8c00"/><circle cx="382.02" cy="95.00" r="1.5" fill="#ff8c00"/><circle cx="385.98" cy="95.00" r="1.5" fill="#ff8c00"/><circle cx="389.94" cy="95.00" r="1.5" fill="#ff8c00"/><circle cx="393.90" cy="95.00" r="1.5" fill="#ff8c00"/><circle cx="397.86" cy="123.40" r="1.5" fill="#ff8c00"/><circle cx="401.82" cy="123.40" r="1.5" fill="#ff8c00"/><circle cx="405.78" cy="123.40" r="1.5" fill="#ff8c00"/><circle cx="409.74" cy="123.40" r="1.5" fill="#ff8c00"/><circle cx="413.70" cy="124.00" r="1.5" fill="#ff8c00"/><circle cx="417.66" cy="124.00" r="1.5" fill="#ff8c00"/><circle cx="421.62" cy="124.00" r="1.5" fill="#ff8c00"/><circle cx="425.58" cy="124.00" r="1.5" fill="#ff8c00"/><circle cx="429.54" cy="124.00" r="1.5" fill="#ff8c00"/><circle cx="433.50" cy="124.00" r="1.5" fill="#ff8c00"/><circle cx="437.46" cy="124.00" r="1.5" fill="#ff8c00"/><circle cx="441.42" cy="124.00" r="1.5" fill="#ff8c00"/><circle cx="445.38" cy="124.00" r="1.5" fill="#ff8c00"/><circle cx="449.34" cy="124.00" r="1.5" fill="#ff8c00"/><circle cx="453.30" cy="124.00" r="1.5" fill="#ff8c00"/><circle cx="457.26" cy="124.00" r="1.5" fill="#ff8c00"/><circle cx="461.22" cy="124.00" r="1.5" fill="#ff8c00"/><circle cx="465.18" cy="124.00" r="1.5" fill="#ff8c00"/><circle cx="469.14" cy="124.00" r="1.5" fill="#ff8c00"/><circle cx="473.10" cy="124.00" r="1.5" fill="#ff8c00"/><circle cx="477.06" cy="125.00" r="1.5" fill="#ff8c00"/><circle cx="481.02" cy="125.00" r="1.5" fill="#ff8c00"/><circle cx="484.98" cy="125.00" r="1.5" fill="#ff8c00"/><circle cx="488.94" cy="125.00" r="1.5" fill="#ff8c00"/><circle cx="492.90" cy="125.00" r="1.5" fill="#ff8c00"/><circle cx="496.86" cy="125.00" r="1.5" fill="#ff8c00"/><circle cx="500.82" cy="125.00" r="1.5" fill="#ff8c00"/><circle cx="504.78" cy="125.00" r="1.5" fill="#ff8c00"/><circle cx="508.74" cy="125.00" r="1.5" fill="#ff8c00"/><circle cx="512.70" cy="125.00" r="1.5" fill="#ff8c00"/><circle cx="516.66" cy="125.00" r="1.5" fill="#ff8c00"/><circle cx="520.62" cy="125.00" r="1.5" fill="#ff8c00"/><circle cx="524.58" cy="125.00" r="1.5" fill="#ff8c00"/><circle cx="528.54" cy="126.10" r="1.5" fill="#ff8c00"/><circle cx="532.50" cy="126.10" r="1.5" fill="#ff8c00"/>
<polyline points="338.46,23.20 342.42,46.60 346.38,47.20 350.34,69.10 354.30,69.10 358.26,69.10 362.22,69.10 366.18,80.50 370.14,80.50 374.10,153.50 378.06,153.50 382.02,153.50 385.98,156.10 389.94,156.10 393.90,156.10 397.86,156.10 401.82,156.10 405.78,156.10 409.74,156.10 413.70,156.10 417.66,156.10 421.62,156.10 425.58,156.10 429.54,156.10 433.50,156.10 437.46,156.10 441.42,156.10 445.38,156.10 449.34,156.10 453.30,156.10 457.26,156.10 461.22,156.10 465.18,156.10 469.14,156.10 473.10,156.10 477.06,156.10 481.02,156.10 484.98,156.10 488.94,156.10 492.90,156.10 496.86,156.10 500.82,156.10 504.78,156.10 508.74,156.10 512.70,156.10 516.66,156.10 520.62,156.10 524.58,156.10 528.54,156.10 532.50,156.10" fill="none" stroke="#0000ff" stroke-width="1.3" stroke-linejoin="round"/>
<circle cx="338.46" cy="23.20" r="2.0" fill="#0000ff"/><circle cx="342.42" cy="46.60" r="2.0" fill="#0000ff"/><circle cx="346.38" cy="47.20" r="2.0" fill="#0000ff"/><circle cx="350.34" cy="69.10" r="2.0" fill="#0000ff"/><circle cx="354.30" cy="69.10" r="2.0" fill="#0000ff"/><circle cx="358.26" cy="69.10" r="2.0" fill="#0000ff"/><circle cx="362.22" cy="69.10" r="2.0" fill="#0000ff"/><circle cx="366.18" cy="80.50" r="2.0" fill="#0000ff"/><circle cx="370.14" cy="80.50" r="2.0" fill="#0000ff"/><circle cx="374.10" cy="153.50" r="2.0" fill="#0000ff"/><circle cx="378.06" cy="153.50" r="2.0" fill="#0000ff"/><circle cx="382.02" cy="153.50" r="2.0" fill="#0000ff"/><circle cx="385.98" cy="156.10" r="2.0" fill="#0000ff"/><circle cx="389.94" cy="156.10" r="2.0" fill="#0000ff"/><circle cx="393.90" cy="156.10" r="2.0" fill="#0000ff"/><circle cx="397.86" cy="156.10" r="2.0" fill="#0000ff"/><circle cx="401.82" cy="156.10" r="2.0" fill="#0000ff"/><circle cx="405.78" cy="156.10" r="2.0" fill="#0000ff"/><circle cx="409.74" cy="156.10" r="2.0" fill="#0000ff"/><circle cx="413.70" cy="156.10" r="2.0" fill="#0000ff"/><circle cx="417.66" cy="156.10" r="2.0" fill="#0000ff"/><circle cx="421.62" cy="156.10" r="2.0" fill="#0000ff"/><circle cx="425.58" cy="156.10" r="2.0" fill="#0000ff"/><circle cx="429.54" cy="156.10" r="2.0" fill="#0000ff"/><circle cx="433.50" cy="156.10" r="2.0" fill="#0000ff"/><circle cx="437.46" cy="156.10" r="2.0" fill="#0000ff"/><circle cx="441.42" cy="156.10" r="2.0" fill="#0000ff"/><circle cx="445.38" cy="156.10" r="2.0" fill="#0000ff"/><circle cx="449.34" cy="156.10" r="2.0" fill="#0000ff"/><circle cx="453.30" cy="156.10" r="2.0" fill="#0000ff"/><circle cx="457.26" cy="156.10" r="2.0" fill="#0000ff"/><circle cx="461.22" cy="156.10" r="2.0" fill="#0000ff"/><circle cx="465.18" cy="156.10" r="2.0" fill="#0000ff"/><circle cx="469.14" cy="156.10" r="2.0" fill="#0000ff"/><circle cx="473.10" cy="156.10" r="2.0" fill="#0000ff"/><circle cx="477.06" cy="156.10" r="2.0" fill="#0000ff"/><circle cx="481.02" cy="156.10" r="2.0" fill="#0000ff"/><circle cx="484.98" cy="156.10" r="2.0" fill="#0000ff"/><circle cx="488.94" cy="156.10" r="2.0" fill="#0000ff"/><circle cx="492.90" cy="156.10" r="2.0" fill="#0000ff"/><circle cx="496.86" cy="156.10" r="2.0" fill="#0000ff"/><circle cx="500.82" cy="156.10" r="2.0" fill="#0000ff"/><circle cx="504.78" cy="156.10" r="2.0" fill="#0000ff"/><circle cx="508.74" cy="156.10" r="2.0" fill="#0000ff"/><circle cx="512.70" cy="156.10" r="2.0" fill="#0000ff"/><circle cx="516.66" cy="156.10" r="2.0" fill="#0000ff"/><circle cx="520.62" cy="156.10" r="2.0" fill="#0000ff"/><circle cx="524.58" cy="156.10" r="2.0" fill="#0000ff"/><circle cx="528.54" cy="156.10" r="2.0" fill="#0000ff"/><circle cx="532.50" cy="156.10" r="2.0" fill="#0000ff"/>
<polyline points="338.46,41.80 342.42,52.00 346.38,81.40 350.34,82.30 354.30,81.90 358.26,92.00 362.22,103.20 366.18,103.20 370.14,103.20 374.10,108.10 378.06,108.10 382.02,108.10 385.98,108.10 389.94,109.50 393.90,109.50 397.86,109.50 401.82,109.50 405.78,109.50 409.74,109.50 413.70,109.50 417.66,109.50 421.62,110.00 425.58,110.00 429.54,110.00 433.50,110.00 437.46,110.00 441.42,110.00 445.38,110.00 449.34,110.00 453.30,110.00 457.26,110.00 461.22,110.00 465.18,110.00 469.14,110.00 473.10,110.00 477.06,110.00 481.02,110.00 484.98,110.00 488.94,110.00 492.90,110.00 496.86,110.00 500.82,110.00 504.78,110.00 508.74,110.00 512.70,110.00 516.66,111.20 520.62,111.20 524.58,111.20 528.54,111.20 532.50,111.20" fill="none" stroke="#ff69b4" stroke-width="1.3" stroke-dasharray="4.5,1.9" stroke-linejoin="round"/>
<path d="M338.46,43.95L336.31,39.65L340.61,39.65Z" fill="#ff69b4"/><path d="M342.42,54.15L340.27,49.85L344.57,49.85Z" fill="#ff69b4"/><path d="M346.38,83.55L344.23,79.25L348.53,79.25Z" fill="#ff69b4"/><path d="M350.34,84.45L348.19,80.15L352.49,80.15Z" fill="#ff69b4"/><path d="M354.30,84.05L352.15,79.75L356.45,79.75Z" fill="#ff69b4"/><path d="M358.26,94.15L356.11,89.85L360.41,89.85Z" fill="#ff69b4"/><path d="M362.22,105.35L360.07,101.05L364.37,101.05Z" fill="#ff69b4"/><path d="M366.18,105.35L364.03,101.05L368.33,101.05Z" fill="#ff69b4"/><path d="M370.14,105.35L367.99,101.05L372.29,101.05Z" fill="#ff69b4"/><path d="M374.10,110.25L371.95,105.95L376.25,105.95Z" fill="#ff69b4"/><path d="M378.06,110.25L375.91,105.95L380.21,105.95Z" fill="#ff69b4"/><path d="M382.02,110.25L379.87,105.95L384.17,105.95Z" fill="#ff69b4"/><path d="M385.98,110.25L383.83,105.95L388.13,105.95Z" fill="#ff69b4"/><path d="M389.94,111.65L387.79,107.35L392.09,107.35Z" fill="#ff69b4"/><path d="M393.90,111.65L391.75,107.35L396.05,107.35Z" fill="#ff69b4"/><path d="M397.86,111.65L395.71,107.35L400.01,107.35Z" fill="#ff69b4"/><path d="M401.82,111.65L399.67,107.35L403.97,107.35Z" fill="#ff69b4"/><path d="M405.78,111.65L403.63,107.35L407.93,107.35Z" fill="#ff69b4"/><path d="M409.74,111.65L407.59,107.35L411.89,107.35Z" fill="#ff69b4"/><path d="M413.70,111.65L411.55,107.35L415.85,107.35Z" fill="#ff69b4"/><path d="M417.66,111.65L415.51,107.35L419.81,107.35Z" fill="#ff69b4"/><path d="M421.62,112.15L419.47,107.85L423.77,107.85Z" fill="#ff69b4"/><path d="M425.58,112.15L423.43,107.85L427.73,107.85Z" fill="#ff69b4"/><path d="M429.54,112.15L427.39,107.85L431.69,107.85Z" fill="#ff69b4"/><path d="M433.50,112.15L431.35,107.85L435.65,107.85Z" fill="#ff69b4"/><path d="M437.46,112.15L435.31,107.85L439.61,107.85Z" fill="#ff69b4"/><path d="M441.42,112.15L439.27,107.85L443.57,107.85Z" fill="#ff69b4"/><path d="M445.38,112.15L443.23,107.85L447.53,107.85Z" fill="#ff69b4"/><path d="M449.34,112.15L447.19,107.85L451.49,107.85Z" fill="#ff69b4"/><path d="M453.30,112.15L451.15,107.85L455.45,107.85Z" fill="#ff69b4"/><path d="M457.26,112.15L455.11,107.85L459.41,107.85Z" fill="#ff69b4"/><path d="M461.22,112.15L459.07,107.85L463.37,107.85Z" fill="#ff69b4"/><path d="M465.18,112.15L463.03,107.85L467.33,107.85Z" fill="#ff69b4"/><path d="M469.14,112.15L466.99,107.85L471.29,107.85Z" fill="#ff69b4"/><path d="M473.10,112.15L470.95,107.85L475.25,107.85Z" fill="#ff69b4"/><path d="M477.06,112.15L474.91,107.85L479.21,107.85Z" fill="#ff69b4"/><path d="M481.02,112.15L478.87,107.85L483.17,107.85Z" fill="#ff69b4"/><path d="M484.98,112.15L482.83,107.85L487.13,107.85Z" fill="#ff69b4"/><path d="M488.94,112.15L486.79,107.85L491.09,107.85Z" fill="#ff69b4"/><path d="M492.90,112.15L490.75,107.85L495.05,107.85Z" fill="#ff69b4"/><path d="M496.86,112.15L494.71,107.85L499.01,107.85Z" fill="#ff69b4"/><path d="M500.82,112.15L498.67,107.85L502.97,107.85Z" fill="#ff69b4"/><path d="M504.78,112.15L502.63,107.85L506.93,107.85Z" fill="#ff69b4"/><path d="M508.74,112.15L506.59,107.85L510.89,107.85Z" fill="#ff69b4"/><path d="M512.70,112.15L510.55,107.85L514.85,107.85Z" fill="#ff69b4"/><path d="M516.66,113.35L514.51,109.05L518.81,109.05Z" fill="#ff69b4"/><path d="M520.62,113.35L518.47,109.05L522.77,109.05Z" fill="#ff69b4"/><path d="M524.58,113.35L522.43,109.05L526.73,109.05Z" fill="#ff69b4"/><path d="M528.54,113.35L526.39,109.05L530.69,109.05Z" fill="#ff69b4"/><path d="M532.50,113.35L530.35,109.05L534.65,109.05Z" fill="#ff69b4"/>
<polyline points="338.46,69.60 342.42,69.60 346.38,69.60 350.34,69.60 354.30,69.60 358.26,69.60 362.22,107.30 366.18,107.30 370.14,107.30 374.10,107.30 378.06,107.30 382.02,107.30 385.98,107.30 389.94,107.30 393.90,110.00 397.86,112.00 401.82,112.00 405.78,112.00 409.74,112.00 413.70,112.00 417.66,112.00 421.62,120.90 425.58,122.60 429.54,122.60 433.50,122.60 437.46,122.60 441.42,122.60 445.38,122.60 449.34,122.60 453.30,122.60 457.26,122.60 461.22,122.60 465.18,122.60 469.14,122.60 473.10,122.60 477.06,122.60 481.02,122.60 484.98,122.60 488.94,122.60 492.90,122.60 496.86,122.60 500.82,122.60 504.78,122.60 508.74,122.60 512.70,122.60 516.66,122.60 520.62,122.60 524.58,122.60 528.54,122.60 532.50,122.60" fill="none" stroke="#4169e1" stroke-width="1.3" stroke-dasharray="4.5,1.9" stroke-linejoin="round"/>
<path d="M337.16,69.60H339.76M338.46,68.30V70.90" stroke="#4169e1" stroke-width="0.7" fill="none"/><path d="M341.12,69.60H343.72M342.42,68.30V70.90" stroke="#4169e1" stroke-width="0.7" fill="none"/><path d="M345.08,69.60H347.68M346.38,68.30V70.90" stroke="#4169e1" stroke-width="0.7" fill="none"/><path d="M349.04,69.60H351.64M350.34,68.30V70.90" stroke="#4169e1" stroke-width="0.7" fill="none"/><path d="M353.00,69.60H355.60M354.30,68.30V70.90" stroke="#4169e1" stroke-width="0.7" fill="none"/><path d="M356.96,69.60H359.56M358.26,68.30V70.90" stroke="#4169e1" stroke-width="0.7" fill="none"/><path d="M360.92,107.30H363.52M362.22,106.00V108.60" stroke="#4169e1" stroke-width="0.7" fill="none"/><path d="M364.88,107.30H367.48M366.18,106.00V108.60" stroke="#4169e1" stroke-width="0.7" fill="none"/><path d="M368.84,107.30H371.44M370.14,106.00V108.60" stroke="#4169e1" stroke-width="0.7" fill="none"/><path d="M372.80,107.30H375.40M374.10,106.00V108.60" stroke="#4169e1" stroke-width="0.7" fill="none"/><path d="M376.76,107.30H379.36M378.06,106.00V108.60" stroke="#4169e1" stroke-width="0.7" fill="none"/><path d="M380.72,107.30H383.32M382.02,106.00V108.60" stroke="#4169e1" stroke-width="0.7" fill="none"/><path d="M384.68,107.30H387.28M385.98,106.00V108.60" stroke="#4169e1" stroke-width="0.7" fill="none"/><path d="M388.64,107.30H391.24M389.94,106.00V108.60" stroke="#4169e1" stroke-width="0.7" fill="none"/><path d="M392.60,110.00H395.20M393.90,108.70V111.30" stroke="#4169e1" stroke-width="0.7" fill="none"/><path d="M396.56,112.00H399.16M397.86,110.70V113.30" stroke="#4169e1" stroke-width="0.7" fill="none"/><path d="M400.52,112.00H403.12M401.82,110.70V113.30" stroke="#4169e1" stroke-width="0.7" fill="none"/><path d="M404.48,112.00H407.08M405.78,110.70V113.30" stroke="#4169e1" stroke-width="0.7" fill="none"/><path d="M408.44,112.00H411.04M409.74,110.70V113.30" stroke="#4169e1" stroke-width="0.7" fill="none"/><path d="M412.40,112.00H415.00M413.70,110.70V113.30" stroke="#4169e1" stroke-width="0.7" fill="none"/><path d="M416.36,112.00H418.96M417.66,110.70V113.30" stroke="#4169e1" stroke-width="0.7" fill="none"/><path d="M420.32,120.90H422.92M421.62,119.60V122.20" stroke="#4169e1" stroke-width="0.7" fill="none"/><path d="M424.28,122.60H426.88M425.58,121.30V123.90" stroke="#4169e1" stroke-width="0.7" fill="none"/><path d="M428.24,122.60H430.84M429.54,121.30V123.90" stroke="#4169e1" stroke-width="0.7" fill="none"/><path d="M432.20,122.60H434.80M433.50,121.30V123.90" stroke="#4169e1" stroke-width="0.7" fill="none"/><path d="M436.16,122.60H438.76M437.46,121.30V123.90" stroke="#4169e1" stroke-width="0.7" fill="none"/><path d="M440.12,122.60H442.72M441.42,121.30V123.90" stroke="#4169e1" stroke-width="0.7" fill="none"/><path d="M444.08,122.60H446.68M445.38,121.30V123.90" stroke="#4169e1" stroke-width="0.7" fill="none"/><path d="M448.04,122.60H450.64M449.34,121.30V123.90" stroke="#4169e1" stroke-width="0.7" fill="none"/><path d="M452.00,122.60H454.60M453.30,121.30V123.90" stroke="#4169e1" stroke-width="0.7" fill="none"/><path d="M455.96,122.60H458.56M457.26,121.30V123.90" stroke="#4169e1" stroke-width="0.7" fill="none"/><path d="M459.92,122.60H462.52M461.22,121.30V123.90" stroke="#4169e1" stroke-width="0.7" fill="none"/><path d="M463.88,122.60H466.48M465.18,121.30V123.90" stroke="#4169e1" stroke-width="0.7" fill="none"/><path d="M467.84,122.60H470.44M469.14,121.30V123.90" stroke="#4169e1" stroke-width="0.7" fill="none"/><path d="M471.80,122.60H474.40M473.10,121.30V123.90" stroke="#4169e1" stroke-width="0.7" fill="none"/><path d="M475.76,122.60H478.36M477.06,121.30V123.90" stroke="#4169e1" stroke-width="0.7" fill="none"/><path d="M479.72,122.60H482.32M481.02,121.30V123.90" stroke="#4169e1" stroke-width="0.7" fill="none"/><path d="M483.68,122.60H486.28M484.98,121.30V123.90" stroke="#4169e1" stroke-width="0.7" fill="none"/><path d="M487.64,122.60H490.24M488.94,121.30V123.90" stroke="#4169e1" stroke-width="0.7" fill="none"/><path d="M491.60,122.60H494.20M492.90,121.30V123.90" stroke="#4169e1" stroke-width="0.7" fill="none"/><path d="M495.56,122.60H498.16M496.86,121.30V123.90" stroke="#4169e1" stroke-width="0.7" fill="none"/><path d="M499.52,122.60H502.12M500.82,121.30V123.90" stroke="#4169e1" stroke-width="0.7" fill="none"/><path d="M503.48,122.60H506.08M504.78,121.30V123.90" stroke="#4169e1" stroke-width="0.7" fill="none"/><path d="M507.44,122.60H510.04M508.74,121.30V123.90" stroke="#4169e1" stroke-width="0.7" fill="none"/><path d="M511.40,122.60H514.00M512.70,121.30V123.90" stroke="#4169e1" stroke-width="0.7" fill="none"/><path d="M515.36,122.60H517.96M516.66,121.30V123.90" stroke="#4169e1" stroke-width="0.7" fill="none"/><path d="M519.32,122.60H521.92M520.62,121.30V123.90" stroke="#4169e1" stroke-width="0.7" fill="none"/><path d="M523.28,122.60H525.88M524.58,121.30V123.90" stroke="#4169e1" stroke-width="0.7" fill="none"/><path d="M527.24,122.60H529.84M528.54,121.30V123.90" stroke="#4169e1" stroke-width="0.7" fill="none"/><path d="M531.20,122.60H533.80M532.50,121.30V123.90" stroke="#4169e1" stroke-width="0.7" fill="none"/>
<polyline points="338.46,57.60 342.42,97.70 346.38,98.20 350.34,152.60 354.30,152.60 358.26,152.60 362.22,152.60 366.18,152.60 370.14,152.60 374.10,152.60 378.06,152.60 382.02,152.60 385.98,152.60 389.94,152.60 393.90,152.60 397.86,152.60 401.82,152.60 405.78,152.60 409.74,152.60 413.70,152.60 417.66,152.60 421.62,152.60 425.58,152.60 429.54,152.60 433.50,152.60 437.46,152.60 441.42,152.60 445.38,152.60 449.34,152.60 453.30,152.60 457.26,152.60 461.22,152.60 465.18,153.60 469.14,153.60 473.10,153.60 477.06,153.60 481.02,153.60 484.98,153.60 488.94,153.60 492.90,153.60 496.86,153.60 500.82,153.60 504.78,153.60 508.74,153.60 512.70,153.60 516.66,153.60 520.62,153.60 524.58,153.60 528.54,153.60 532.50,153.60" fill="none" stroke="#9acd32" stroke-width="1.3" stroke-dasharray="1.2,2.0" stroke-linejoin="round"/>
<path d="M338.46,55.40L336.26,59.80L340.66,59.80Z" fill="#9acd32"/><path d="M342.42,95.50L340.22,99.90L344.62,99.90Z" fill="#9acd32"/><path d="M346.38,96.00L344.18,100.40L348.58,100.40Z" fill="#9acd32"/><path d="M350.34,150.40L348.14,154.80L352.54,154.80Z" fill="#9acd32"/><path d="M354.30,150.40L352.10,154.80L356.50,154.80Z" fill="#9acd32"/><path d="M358.26,150.40L356.06,154.80L360.46,154.80Z" fill="#9acd32"/><path d="M362.22,150.40L360.02,154.80L364.42,154.80Z" fill="#9acd32"/><path d="M366.18,150.40L363.98,154.80L368.38,154.80Z" fill="#9acd32"/><path d="M370.14,150.40L367.94,154.80L372.34,154.80Z" fill="#9acd32"/><path d="M374.10,150.40L371.90,154.80L376.30,154.80Z" fill="#9acd32"/><path d="M378.06,150.40L375.86,154.80L380.26,154.80Z" fill="#9acd32"/><path d="M382.02,150.40L379.82,154.80L384.22,154.80Z" fill="#9acd32"/><path d="M385.98,150.40L383.78,154.80L388.18,154.80Z" fill="#9acd32"/><path d="M389.94,150.40L387.74,154.80L392.14,154.80Z" fill="#9acd32"/><path d="M393.90,150.40L391.70,154.80L396.10,154.80Z" fill="#9acd32"/><path d="M397.86,150.40L395.66,154.80L400.06,154.80Z" fill="#9acd32"/><path d="M401.82,150.40L399.62,154.80L404.02,154.80Z" fill="#9acd32"/><path d="M405.78,150.40L403.58,154.80L407.98,154.80Z" fill="#9acd32"/><path d="M409.74,150.40L407.54,154.80L411.94,154.80Z" fill="#9acd32"/><path d="M413.70,150.40L411.50,154.80L415.90,154.80Z" fill="#9acd32"/><path d="M417.66,150.40L415.46,154.80L419.86,154.80Z" fill="#9acd32"/><path d="M421.62,150.40L419.42,154.80L423.82,154.80Z" fill="#9acd32"/><path d="M425.58,150.40L423.38,154.80L427.78,154.80Z" fill="#9acd32"/><path d="M429.54,150.40L427.34,154.80L431.74,154.80Z" fill="#9acd32"/><path d="M433.50,150.40L431.30,154.80L435.70,154.80Z" fill="#9acd32"/><path d="M437.46,150.40L435.26,154.80L439.66,154.80Z" fill="#9acd32"/><path d="M441.42,150.40L439.22,154.80L443.62,154.80Z" fill="#9acd32"/><path d="M445.38,150.40L443.18,154.80L447.58,154.80Z" fill="#9acd32"/><path d="M449.34,150.40L447.14,154.80L451.54,154.80Z" fill="#9acd32"/><path d="M453.30,150.40L451.10,154.80L455.50,154.80Z" fill="#9acd32"/><path d="M457.26,150.40L455.06,154.80L459.46,154.80Z" fill="#9acd32"/><path d="M461.22,150.40L459.02,154.80L463.42,154.80Z" fill="#9acd32"/><path d="M465.18,151.40L462.98,155.80L467.38,155.80Z" fill="#9acd32"/><path d="M469.14,151.40L466.94,155.80L471.34,155.80Z" fill="#9acd32"/><path d="M473.10,151.40L470.90,155.80L475.30,155.80Z" fill="#9acd32"/><path d="M477.06,151.40L474.86,155.80L479.26,155.80Z" fill="#9acd32"/><path d="M481.02,151.40L478.82,155.80L483.22,155.80Z" fill="#9acd32"/><path d="M484.98,151.40L482.78,155.80L487.18,155.80Z" fill="#9acd32"/><path d="M488.94,151.40L486.74,155.80L491.14,155.80Z" fill="#9acd32"/><path d="M492.90,151.40L490.70,155.80L495.10,155.80Z" fill="#9acd32"/><path d="M496.86,151.40L494.66,155.80L499.06,155.80Z" fill="#9acd32"/><path d="M500.82,151.40L498.62,155.80L503.02,155.80Z" fill="#9acd32"/><path d="M504.78,151.40L502.58,155.80L506.98,155.80Z" fill="#9acd32"/><path d="M508.74,151.40L506.54,155.80L510.94,155.80Z" fill="#9acd32"/><path d="M512.70,151.40L510.50,155.80L514.90,155.80Z" fill="#9acd32"/><path d="M516.66,151.40L514.46,155.80L518.86,155.80Z" fill="#9acd32"/><path d="M520.62,151.40L518.42,155.80L522.82,155.80Z" fill="#9acd32"/><path d="M524.58,151.40L522.38,155.80L526.78,155.80Z" fill="#9acd32"/><path d="M528.54,151.40L526.34,155.80L530.74,155.80Z" fill="#9acd32"/><path d="M532.50,151.40L530.30,155.80L534.70,155.80Z" fill="#9acd32"/>
<polyline points="338.46,30.50 342.42,49.50 346.38,64.00 350.34,72.80 354.30,72.80 358.26,72.80 362.22,72.80 366.18,104.20 370.14,104.20 374.10,104.20 378.06,104.20 382.02,104.20 385.98,104.20 389.94,104.20 393.90,104.20 397.86,104.20 401.82,104.20 405.78,104.20 409.74,104.20 413.70,104.20 417.66,104.20 421.62,104.20 425.58,104.20 429.54,104.20 433.50,104.20 437.46,104.20 441.42,104.20 445.38,104.20 449.34,104.20 453.30,104.20 457.26,104.20 461.22,104.20 465.18,104.20 469.14,104.20 473.10,104.20 477.06,104.20 481.02,104.20 484.98,104.20 488.94,104.20 492.90,104.20 496.86,104.20 500.82,104.20 504.78,104.20 508.74,104.20 512.70,104.20 516.66,104.20 520.62,104.20 524.58,104.20 528.54,104.20 532.50,104.20" fill="none" stroke="#ffff00" stroke-width="1.3" stroke-dasharray="1.2,2.0" stroke-linejoin="round"/>
<circle cx="338.46" cy="30.50" r="1.3" fill="#ffff00"/><circle cx="342.42" cy="49.50" r="1.3" fill="#ffff00"/><circle cx="346.38" cy="64.00" r="1.3" fill="#ffff00"/><circle cx="350.34" cy="72.80" r="1.3" fill="#ffff00"/><circle cx="354.30" cy="72.80" r="1.3" fill="#ffff00"/><circle cx="358.26" cy="72.80" r="1.3" fill="#ffff00"/><circle cx="362.22" cy="72.80" r="1.3" fill="#ffff00"/><circle cx="366.18" cy="104.20" r="1.3" fill="#ffff00"/><circle cx="370.14" cy="104.20" r="1.3" fill="#ffff00"/><circle cx="374.10" cy="104.20" r="1.3" fill="#ffff00"/><circle cx="378.06" cy="104.20" r="1.3" fill="#ffff00"/><circle cx="382.02" cy="104.20" r="1.3" fill="#ffff00"/><circle cx="385.98" cy="104.20" r="1.3" fill="#ffff00"/><circle cx="389.94" cy="104.20" r="1.3" fill="#ffff00"/><circle cx="393.90" cy="104.20" r="1.3" fill="#ffff00"/><circle cx="397.86" cy="104.20" r="1.3" fill="#ffff00"/><circle cx="401.82" cy="104.20" r="1.3" fill="#ffff00"/><circle cx="405.78" cy="104.20" r="1.3" fill="#ffff00"/><circle cx="409.74" cy="104.20" r="1.3" fill="#ffff00"/><circle cx="413.70" cy="104.20" r="1.3" fill="#ffff00"/><circle cx="417.66" cy="104.20" r="1.3" fill="#ffff00"/><circle cx="421.62" cy="104.20" r="1.3" fill="#ffff00"/><circle cx="425.58" cy="104.20" r="1.3" fill="#ffff00"/><circle cx="429.54" cy="104.20" r="1.3" fill="#ffff00"/><circle cx="433.50" cy="104.20" r="1.3" fill="#ffff00"/><circle cx="437.46" cy="104.20" r="1.3" fill="#ffff00"/><circle cx="441.42" cy="104.20" r="1.3" fill="#ffff00"/><circle cx="445.38" cy="104.20" r="1.3" fill="#ffff00"/><circle cx="449.34" cy="104.20" r="1.3" fill="#ffff00"/><circle cx="453.30" cy="104.20" r="1.3" fill="#ffff00"/><circle cx="457.26" cy="104.20" r="1.3" fill="#ffff00"/><circle cx="461.22" cy="104.20" r="1.3" fill="#ffff00"/><circle cx="465.18" cy="104.20" r="1.3" fill="#ffff00"/><circle cx="469.14" cy="104.20" r="1.3" fill="#ffff00"/><circle cx="473.10" cy="104.20" r="1.3" fill="#ffff00"/><circle cx="477.06" cy="104.20" r="1.3" fill="#ffff00"/><circle cx="481.02" cy="104.20" r="1.3" fill="#ffff00"/><circle cx="484.98" cy="104.20" r="1.3" fill="#ffff00"/><circle cx="488.94" cy="104.20" r="1.3" fill="#ffff00"/><circle cx="492.90" cy="104.20" r="1.3" fill="#ffff00"/><circle cx="496.86" cy="104.20" r="1.3" fill="#ffff00"/><circle cx="500.82" cy="104.20" r="1.3" fill="#ffff00"/><circle cx="504.78" cy="104.20" r="1.3" fill="#ffff00"/><circle cx="508.74" cy="104.20" r="1.3" fill="#ffff00"/><circle cx="512.70" cy="104.20" r="1.3" fill="#ffff00"/><circle cx="516.66" cy="104.20" r="1.3" fill="#ffff00"/><circle cx="520.62" cy="104.20" r="1.3" fill="#ffff00"/><circle cx="524.58" cy="104.20" r="1.3" fill="#ffff00"/><circle cx="528.54" cy="104.20" r="1.3" fill="#ffff00"/><circle cx="532.50" cy="104.20" r="1.3" fill="#ffff00"/>
</svg>
<rect x="359.0" y="19.0" width="180.20000000000005" height="19.6" rx="1.2" fill="#fff" fill-opacity="0.8" stroke="#cccccc" stroke-width="0.5"/>
<path d="M360.50,23.50h13.3" stroke="#ff0000" stroke-width="1.3" fill="none"/>
<circle cx="367.15" cy="23.50" r="2.0" fill="#ff0000"/>
<text x="378.70" y="25.70" font-size="6.2" text-anchor="start" textLength="28.43" lengthAdjust="spacingAndGlyphs">BWO-BOA</text>
<path d="M360.50,32.80h13.3" stroke="#ff8c00" stroke-width="1.3" stroke-dasharray="7.7,1.9,1.2,1.9" fill="none"/>
<circle cx="367.15" cy="32.80" r="1.5" fill="#ff8c00"/>
<text x="378.70" y="35.00" font-size="6.2" text-anchor="start" textLength="12.31" lengthAdjust="spacingAndGlyphs">BOA</text>
<path d="M418.60,23.50h13.3" stroke="#0000ff" stroke-width="1.3" fill="none"/>
<circle cx="425.25" cy="23.50" r="2.0" fill="#0000ff"/>
<text x="436.80" y="25.70" font-size="6.2" text-anchor="start" textLength="14.07" lengthAdjust="spacingAndGlyphs">BWO</text>
<path d="M418.60,32.80h13.3" stroke="#ff69b4" stroke-width="1.3" stroke-dasharray="4.5,1.9" fill="none"/>
<path d="M425.25,34.95L423.10,30.65L427.40,30.65Z" fill="#ff69b4"/>
<text x="436.80" y="35.00" font-size="6.2" text-anchor="start" textLength="11.74" lengthAdjust="spacingAndGlyphs">PSO</text>
<path d="M461.40,23.50h13.3" stroke="#4169e1" stroke-width="1.3" stroke-dasharray="4.5,1.9" fill="none"/>
<path d="M466.75,23.50H469.35M468.05,22.20V24.80" stroke="#4169e1" stroke-width="0.7" fill="none"/>
<text x="479.60" y="25.70" font-size="6.2" text-anchor="start" textLength="11.44" lengthAdjust="spacingAndGlyphs">SSA</text>
<path d="M461.40,32.80h13.3" stroke="#9acd32" stroke-width="1.3" stroke-dasharray="1.2,2.0" fill="none"/>
<path d="M468.05,30.60L465.85,35.00L470.25,35.00Z" fill="#9acd32"/>
<text x="479.60" y="35.00" font-size="6.2" text-anchor="start" textLength="14.02" lengthAdjust="spacingAndGlyphs">IBOA</text>
<path d="M503.60,23.50h13.3" stroke="#ffff00" stroke-width="1.3" stroke-dasharray="1.2,2.0" fill="none"/>
<circle cx="510.25" cy="23.50" r="1.3" fill="#ffff00"/>
<text x="521.80" y="25.70" font-size="6.2" text-anchor="start" textLength="14.17" lengthAdjust="spacingAndGlyphs">WOA</text>
<rect x="328.8" y="16.2" width="213.60" height="158.30" fill="none" stroke="#333" stroke-width="0.75"/>
<path d="M334.50,174.50v2.2M374.10,174.50v2.2M413.70,174.50v2.2M453.30,174.50v2.2M492.90,174.50v2.2M532.50,174.50v2.2M328.80,173.60h-2.0M328.80,149.60h-2.0M328.80,125.60h-2.0M328.80,101.60h-2.0M328.80,77.60h-2.0M328.80,53.60h-2.0M328.80,29.60h-2.0" stroke="#333" stroke-width="0.7" fill="none"/>
<text x="334.50" y="184.10" font-size="5.77" text-anchor="middle" textLength="3.62" lengthAdjust="spacingAndGlyphs">0</text>
<text x="374.10" y="184.10" font-size="5.77" text-anchor="middle" textLength="7.23" lengthAdjust="spacingAndGlyphs">10</text>
<text x="413.70" y="184.10" font-size="5.77" text-anchor="middle" textLength="7.23" lengthAdjust="spacingAndGlyphs">20</text>
<text x="453.30" y="184.10" font-size="5.77" text-anchor="middle" textLength="7.23" lengthAdjust="spacingAndGlyphs">30</text>
<text x="492.90" y="184.10" font-size="5.77" text-anchor="middle" textLength="7.23" lengthAdjust="spacingAndGlyphs">40</text>
<text x="532.50" y="184.10" font-size="5.77" text-anchor="middle" textLength="7.23" lengthAdjust="spacingAndGlyphs">50</text>
<text x="324.30" y="175.65" font-size="5.77" text-anchor="end" textLength="16.27" lengthAdjust="spacingAndGlyphs">0.035</text>
<text x="324.30" y="151.65" font-size="5.77" text-anchor="end" textLength="16.27" lengthAdjust="spacingAndGlyphs">0.040</text>
<text x="324.30" y="127.65" font-size="5.77" text-anchor="end" textLength="16.27" lengthAdjust="spacingAndGlyphs">0.045</text>
<text x="324.30" y="103.65" font-size="5.77" text-anchor="end" textLength="16.27" lengthAdjust="spacingAndGlyphs">0.050</text>
<text x="324.30" y="79.65" font-size="5.77" text-anchor="end" textLength="16.27" lengthAdjust="spacingAndGlyphs">0.055</text>
<text x="324.30" y="55.65" font-size="5.77" text-anchor="end" textLength="16.27" lengthAdjust="spacingAndGlyphs">0.060</text>
<text x="324.30" y="31.65" font-size="5.77" text-anchor="end" textLength="16.27" lengthAdjust="spacingAndGlyphs">0.065</text>
<text x="435.60" y="11.90" font-size="7.5" text-anchor="middle" textLength="48.10" lengthAdjust="spacingAndGlyphs">10% Data Set</text>
<text x="435.60" y="191.90" font-size="6.0" text-anchor="middle" textLength="61.34" lengthAdjust="spacingAndGlyphs">Number of Iterations</text>
<text x="0" y="0" font-size="6.0" text-anchor="middle" textLength="20.19" lengthAdjust="spacingAndGlyphs" transform="translate(304.50,96.15) rotate(-90)">Fitness</text>
<text x="432.40" y="211.80" font-size="13.0" text-anchor="middle" class="cap">(<tspan font-weight="bold" style="stroke-width:0">b</tspan>)</text>
<path d="M46.60,240.50V396.70M85.42,240.50V396.70M124.24,240.50V396.70M163.06,240.50V396.70M201.88,240.50V396.70M240.70,240.50V396.70M40.40,388.44H250.30M40.40,370.61H250.30M40.40,352.78H250.30M40.40,334.95H250.30M40.40,317.12H250.30M40.40,299.29H250.30M40.40,281.46H250.30M40.40,263.63H250.30M40.40,245.80H250.30" stroke="#b0b0b0" stroke-opacity="0.7" stroke-width="0.6" fill="none"/>
<svg x="40.4" y="240.5" width="209.9" height="156.2" viewBox="40.4 240.5 209.9 156.2" overflow="hidden">
<polyline points="50.48,328.90 54.36,346.40 58.25,348.20 62.13,355.00 66.01,362.00 69.89,362.30 73.77,362.30 77.66,362.30 81.54,364.60 85.42,367.60 89.30,385.00 93.18,386.30 97.07,386.30 100.95,386.30 104.83,386.30 108.71,386.30 112.59,386.30 116.48,388.50 120.36,389.50 124.24,389.50 128.12,389.50 132.00,389.50 135.89,389.50 139.77,389.50 143.65,389.50 147.53,389.50 151.41,389.50 155.30,389.50 159.18,389.50 163.06,389.50 166.94,389.50 170.82,389.50 174.71,389.50 178.59,389.50 182.47,389.50 186.35,389.50 190.23,389.50 194.12,389.50 198.00,389.50 201.88,389.50 205.76,389.50 209.64,389.50 213.53,389.50 217.41,389.50 221.29,389.50 225.17,389.50 229.05,389.50 232.94,389.50 236.82,389.50 240.70,389.50" fill="none" stroke="#ff0000" stroke-width="1.3" stroke-linejoin="round"/>
<circle cx="50.48" cy="328.90" r="2.0" fill="#ff0000"/><circle cx="54.36" cy="346.40" r="2.0" fill="#ff0000"/><circle cx="58.25" cy="348.20" r="2.0" fill="#ff0000"/><circle cx="62.13" cy="355.00" r="2.0" fill="#ff0000"/><circle cx="66.01" cy="362.00" r="2.0" fill="#ff0000"/><circle cx="69.89" cy="362.30" r="2.0" fill="#ff0000"/><circle cx="73.77" cy="362.30" r="2.0" fill="#ff0000"/><circle cx="77.66" cy="362.30" r="2.0" fill="#ff0000"/><circle cx="81.54" cy="364.60" r="2.0" fill="#ff0000"/><circle cx="85.42" cy="367.60" r="2.0" fill="#ff0000"/><circle cx="89.30" cy="385.00" r="2.0" fill="#ff0000"/><circle cx="93.18" cy="386.30" r="2.0" fill="#ff0000"/><circle cx="97.07" cy="386.30" r="2.0" fill="#ff0000"/><circle cx="100.95" cy="386.30" r="2.0" fill="#ff0000"/><circle cx="104.83" cy="386.30" r="2.0" fill="#ff0000"/><circle cx="108.71" cy="386.30" r="2.0" fill="#ff0000"/><circle cx="112.59" cy="386.30" r="2.0" fill="#ff0000"/><circle cx="116.48" cy="388.50" r="2.0" fill="#ff0000"/><circle cx="120.36" cy="389.50" r="2.0" fill="#ff0000"/><circle cx="124.24" cy="389.50" r="2.0" fill="#ff0000"/><circle cx="128.12" cy="389.50" r="2.0" fill="#ff0000"/><circle cx="132.00" cy="389.50" r="2.0" fill="#ff0000"/><circle cx="135.89" cy="389.50" r="2.0" fill="#ff0000"/><circle cx="139.77" cy="389.50" r="2.0" fill="#ff0000"/><circle cx="143.65" cy="389.50" r="2.0" fill="#ff0000"/><circle cx="147.53" cy="389.50" r="2.0" fill="#ff0000"/><circle cx="151.41" cy="389.50" r="2.0" fill="#ff0000"/><circle cx="155.30" cy="389.50" r="2.0" fill="#ff0000"/><circle cx="159.18" cy="389.50" r="2.0" fill="#ff0000"/><circle cx="163.06" cy="389.50" r="2.0" fill="#ff0000"/><circle cx="166.94" cy="389.50" r="2.0" fill="#ff0000"/><circle cx="170.82" cy="389.50" r="2.0" fill="#ff0000"/><circle cx="174.71" cy="389.50" r="2.0" fill="#ff0000"/><circle cx="178.59" cy="389.50" r="2.0" fill="#ff0000"/><circle cx="182.47" cy="389.50" r="2.0" fill="#ff0000"/><circle cx="186.35" cy="389.50" r="2.0" fill="#ff0000"/><circle cx="190.23" cy="389.50" r="2.0" fill="#ff0000"/><circle cx="194.12" cy="389.50" r="2.0" fill="#ff0000"/><circle cx="198.00" cy="389.50" r="2.0" fill="#ff0000"/><circle cx="201.88" cy="389.50" r="2.0" fill="#ff0000"/><circle cx="205.76" cy="389.50" r="2.0" fill="#ff0000"/><circle cx="209.64" cy="389.50" r="2.0" fill="#ff0000"/><circle cx="213.53" cy="389.50" r="2.0" fill="#ff0000"/><circle cx="217.41" cy="389.50" r="2.0" fill="#ff0000"/><circle cx="221.29" cy="389.50" r="2.0" fill="#ff0000"/><circle cx="225.17" cy="389.50" r="2.0" fill="#ff0000"/><circle cx="229.05" cy="389.50" r="2.0" fill="#ff0000"/><circle cx="232.94" cy="389.50" r="2.0" fill="#ff0000"/><circle cx="236.82" cy="389.50" r="2.0" fill="#ff0000"/><circle cx="240.70" cy="389.50" r="2.0" fill="#ff0000"/>
<polyline points="50.48,281.80 54.36,289.70 58.25,289.70 62.13,289.70 66.01,289.70 69.89,289.70 73.77,289.70 77.66,289.70 81.54,289.70 85.42,289.70 89.30,290.40 93.18,290.40 97.07,290.40 100.95,290.40 104.83,290.40 108.71,290.40 112.59,290.40 116.48,324.00 120.36,324.00 124.24,324.00 128.12,324.00 132.00,324.00 135.89,366.40 139.77,367.30 143.65,367.30 147.53,368.80 151.41,368.80 155.30,368.80 159.18,368.80 163.06,368.80 166.94,368.80 170.82,368.80 174.71,368.80 178.59,368.80 182.47,368.80 186.35,368.80 190.23,368.80 194.12,368.80 198.00,368.80 201.88,368.80 205.76,368.80 209.64,368.80 213.53,368.80 217.41,368.80 221.29,368.80 225.17,368.80 229.05,368.80 232.94,368.80 236.82,368.80 240.70,368.80" fill="none" stroke="#ff8c00" stroke-width="1.3" stroke-dasharray="7.7,1.9,1.2,1.9" stroke-linejoin="round"/>
<circle cx="50.48" cy="281.80" r="1.5" fill="#ff8c00"/><circle cx="54.36" cy="289.70" r="1.5" fill="#ff8c00"/><circle cx="58.25" cy="289.70" r="1.5" fill="#ff8c00"/><circle cx="62.13" cy="289.70" r="1.5" fill="#ff8c00"/><circle cx="66.01" cy="289.70" r="1.5" fill="#ff8c00"/><circle cx="69.89" cy="289.70" r="1.5" fill="#ff8c00"/><circle cx="73.77" cy="289.70" r="1.5" fill="#ff8c00"/><circle cx="77.66" cy="289.70" r="1.5" fill="#ff8c00"/><circle cx="81.54" cy="289.70" r="1.5" fill="#ff8c00"/><circle cx="85.42" cy="289.70" r="1.5" fill="#ff8c00"/><circle cx="89.30" cy="290.40" r="1.5" fill="#ff8c00"/><circle cx="93.18" cy="290.40" r="1.5" fill="#ff8c00"/><circle cx="97.07" cy="290.40" r="1.5" fill="#ff8c00"/><circle cx="100.95" cy="290.40" r="1.5" fill="#ff8c00"/><circle cx="104.83" cy="290.40" r="1.5" fill="#ff8c00"/><circle cx="108.71" cy="290.40" r="1.5" fill="#ff8c00"/><circle cx="112.59" cy="290.40" r="1.5" fill="#ff8c00"/><circle cx="116.48" cy="324.00" r="1.5" fill="#ff8c00"/><circle cx="120.36" cy="324.00" r="1.5" fill="#ff8c00"/><circle cx="124.24" cy="324.00" r="1.5" fill="#ff8c00"/><circle cx="128.12" cy="324.00" r="1.5" fill="#ff8c00"/><circle cx="132.00" cy="324.00" r="1.5" fill="#ff8c00"/><circle cx="135.89" cy="366.40" r="1.5" fill="#ff8c00"/><circle cx="139.77" cy="367.30" r="1.5" fill="#ff8c00"/><circle cx="143.65" cy="367.30" r="1.5" fill="#ff8c00"/><circle cx="147.53" cy="368.80" r="1.5" fill="#ff8c00"/><circle cx="151.41" cy="368.80" r="1.5" fill="#ff8c00"/><circle cx="155.30" cy="368.80" r="1.5" fill="#ff8c00"/><circle cx="159.18" cy="368.80" r="1.5" fill="#ff8c00"/><circle cx="163.06" cy="368.80" r="1.5" fill="#ff8c00"/><circle cx="166.94" cy="368.80" r="1.5" fill="#ff8c00"/><circle cx="170.82" cy="368.80" r="1.5" fill="#ff8c00"/><circle cx="174.71" cy="368.80" r="1.5" fill="#ff8c00"/><circle cx="178.59" cy="368.80" r="1.5" fill="#ff8c00"/><circle cx="182.47" cy="368.80" r="1.5" fill="#ff8c00"/><circle cx="186.35" cy="368.80" r="1.5" fill="#ff8c00"/><circle cx="190.23" cy="368.80" r="1.5" fill="#ff8c00"/><circle cx="194.12" cy="368.80" r="1.5" fill="#ff8c00"/><circle cx="198.00" cy="368.80" r="1.5" fill="#ff8c00"/><circle cx="201.88" cy="368.80" r="1.5" fill="#ff8c00"/><circle cx="205.76" cy="368.80" r="1.5" fill="#ff8c00"/><circle cx="209.64" cy="368.80" r="1.5" fill="#ff8c00"/><circle cx="213.53" cy="368.80" r="1.5" fill="#ff8c00"/><circle cx="217.41" cy="368.80" r="1.5" fill="#ff8c00"/><circle cx="221.29" cy="368.80" r="1.5" fill="#ff8c00"/><circle cx="225.17" cy="368.80" r="1.5" fill="#ff8c00"/><circle cx="229.05" cy="368.80" r="1.5" fill="#ff8c00"/><circle cx="232.94" cy="368.80" r="1.5" fill="#ff8c00"/><circle cx="236.82" cy="368.80" r="1.5" fill="#ff8c00"/><circle cx="240.70" cy="368.80" r="1.5" fill="#ff8c00"/>
<polyline points="50.48,285.00 54.36,349.10 58.25,364.00 62.13,369.60 66.01,377.30 69.89,377.30 73.77,377.30 77.66,377.30 81.54,377.30 85.42,377.30 89.30,377.30 93.18,377.30 97.07,377.30 100.95,377.30 104.83,377.30 108.71,379.00 112.59,379.00 116.48,379.00 120.36,379.00 124.24,379.00 128.12,379.00 132.00,379.00 135.89,379.00 139.77,379.00 143.65,379.00 147.53,379.00 151.41,379.00 155.30,379.00 159.18,379.00 163.06,379.00 166.94,379.00 170.82,379.00 174.71,379.00 178.59,379.00 182.47,379.00 186.35,379.00 190.23,379.00 194.12,379.00 198.00,379.00 201.88,379.00 205.76,379.00 209.64,379.00 213.53,379.00 217.41,379.00 221.29,379.00 225.17,379.00 229.05,379.00 232.94,379.00 236.82,381.20 240.70,381.20" fill="none" stroke="#0000ff" stroke-width="1.3" stroke-linejoin="round"/>
<circle cx="50.48" cy="285.00" r="2.0" fill="#0000ff"/><circle cx="54.36" cy="349.10" r="2.0" fill="#0000ff"/><circle cx="58.25" cy="364.00" r="2.0" fill="#0000ff"/><circle cx="62.13" cy="369.60" r="2.0" fill="#0000ff"/><circle cx="66.01" cy="377.30" r="2.0" fill="#0000ff"/><circle cx="69.89" cy="377.30" r="2.0" fill="#0000ff"/><circle cx="73.77" cy="377.30" r="2.0" fill="#0000ff"/><circle cx="77.66" cy="377.30" r="2.0" fill="#0000ff"/><circle cx="81.54" cy="377.30" r="2.0" fill="#0000ff"/><circle cx="85.42" cy="377.30" r="2.0" fill="#0000ff"/><circle cx="89.30" cy="377.30" r="2.0" fill="#0000ff"/><circle cx="93.18" cy="377.30" r="2.0" fill="#0000ff"/><circle cx="97.07" cy="377.30" r="2.0" fill="#0000ff"/><circle cx="100.95" cy="377.30" r="2.0" fill="#0000ff"/><circle cx="104.83" cy="377.30" r="2.0" fill="#0000ff"/><circle cx="108.71" cy="379.00" r="2.0" fill="#0000ff"/><circle cx="112.59" cy="379.00" r="2.0" fill="#0000ff"/><circle cx="116.48" cy="379.00" r="2.0" fill="#0000ff"/><circle cx="120.36" cy="379.00" r="2.0" fill="#0000ff"/><circle cx="124.24" cy="379.00" r="2.0" fill="#0000ff"/><circle cx="128.12" cy="379.00" r="2.0" fill="#0000ff"/><circle cx="132.00" cy="379.00" r="2.0" fill="#0000ff"/><circle cx="135.89" cy="379.00" r="2.0" fill="#0000ff"/><circle cx="139.77" cy="379.00" r="2.0" fill="#0000ff"/><circle cx="143.65" cy="379.00" r="2.0" fill="#0000ff"/><circle cx="147.53" cy="379.00" r="2.0" fill="#0000ff"/><circle cx="151.41" cy="379.00" r="2.0" fill="#0000ff"/><circle cx="155.30" cy="379.00" r="2.0" fill="#0000ff"/><circle cx="159.18" cy="379.00" r="2.0" fill="#0000ff"/><circle cx="163.06" cy="379.00" r="2.0" fill="#0000ff"/><circle cx="166.94" cy="379.00" r="2.0" fill="#0000ff"/><circle cx="170.82" cy="379.00" r="2.0" fill="#0000ff"/><circle cx="174.71" cy="379.00" r="2.0" fill="#0000ff"/><circle cx="178.59" cy="379.00" r="2.0" fill="#0000ff"/><circle cx="182.47" cy="379.00" r="2.0" fill="#0000ff"/><circle cx="186.35" cy="379.00" r="2.0" fill="#0000ff"/><circle cx="190.23" cy="379.00" r="2.0" fill="#0000ff"/><circle cx="194.12" cy="379.00" r="2.0" fill="#0000ff"/><circle cx="198.00" cy="379.00" r="2.0" fill="#0000ff"/><circle cx="201.88" cy="379.00" r="2.0" fill="#0000ff"/><circle cx="205.76" cy="379.00" r="2.0" fill="#0000ff"/><circle cx="209.64" cy="379.00" r="2.0" fill="#0000ff"/><circle cx="213.53" cy="379.00" r="2.0" fill="#0000ff"/><circle cx="217.41" cy="379.00" r="2.0" fill="#0000ff"/><circle cx="221.29" cy="379.00" r="2.0" fill="#0000ff"/><circle cx="225.17" cy="379.00" r="2.0" fill="#0000ff"/><circle cx="229.05" cy="379.00" r="2.0" fill="#0000ff"/><circle cx="232.94" cy="379.00" r="2.0" fill="#0000ff"/><circle cx="236.82" cy="381.20" r="2.0" fill="#0000ff"/><circle cx="240.70" cy="381.20" r="2.0" fill="#0000ff"/>
<polyline points="50.48,293.70 54.36,304.60 58.25,345.00 62.13,354.60 66.01,364.10 69.89,367.00 73.77,367.00 77.66,367.00 81.54,367.00 85.42,369.60 89.30,372.50 93.18,372.50 97.07,372.50 100.95,372.50 104.83,374.30 108.71,374.30 112.59,374.30 116.48,374.30 120.36,374.30 124.24,374.30 128.12,374.30 132.00,374.30 135.89,374.30 139.77,374.30 143.65,374.30 147.53,374.30 151.41,374.30 155.30,374.30 159.18,374.30 163.06,374.60 166.94,374.60 170.82,374.60 174.71,374.60 178.59,374.60 182.47,374.60 186.35,374.60 190.23,374.60 194.12,374.60 198.00,374.60 201.88,374.60 205.76,374.60 209.64,374.60 213.53,374.60 217.41,374.60 221.29,374.60 225.17,374.60 229.05,374.60 232.94,374.60 236.82,374.60 240.70,374.60" fill="none" stroke="#ff69b4" stroke-width="1.3" stroke-dasharray="4.5,1.9" stroke-linejoin="round"/>
<path d="M50.48,295.85L48.33,291.55L52.63,291.55Z" fill="#ff69b4"/><path d="M54.36,306.75L52.21,302.45L56.51,302.45Z" fill="#ff69b4"/><path d="M58.25,347.15L56.10,342.85L60.40,342.85Z" fill="#ff69b4"/><path d="M62.13,356.75L59.98,352.45L64.28,352.45Z" fill="#ff69b4"/><path d="M66.01,366.25L63.86,361.95L68.16,361.95Z" fill="#ff69b4"/><path d="M69.89,369.15L67.74,364.85L72.04,364.85Z" fill="#ff69b4"/><path d="M73.77,369.15L71.62,364.85L75.92,364.85Z" fill="#ff69b4"/><path d="M77.66,369.15L75.51,364.85L79.81,364.85Z" fill="#ff69b4"/><path d="M81.54,369.15L79.39,364.85L83.69,364.85Z" fill="#ff69b4"/><path d="M85.42,371.75L83.27,367.45L87.57,367.45Z" fill="#ff69b4"/><path d="M89.30,374.65L87.15,370.35L91.45,370.35Z" fill="#ff69b4"/><path d="M93.18,374.65L91.03,370.35L95.33,370.35Z" fill="#ff69b4"/><path d="M97.07,374.65L94.92,370.35L99.22,370.35Z" fill="#ff69b4"/><path d="M100.95,374.65L98.80,370.35L103.10,370.35Z" fill="#ff69b4"/><path d="M104.83,376.45L102.68,372.15L106.98,372.15Z" fill="#ff69b4"/><path d="M108.71,376.45L106.56,372.15L110.86,372.15Z" fill="#ff69b4"/><path d="M112.59,376.45L110.44,372.15L114.74,372.15Z" fill="#ff69b4"/><path d="M116.48,376.45L114.33,372.15L118.63,372.15Z" fill="#ff69b4"/><path d="M120.36,376.45L118.21,372.15L122.51,372.15Z" fill="#ff69b4"/><path d="M124.24,376.45L122.09,372.15L126.39,372.15Z" fill="#ff69b4"/><path d="M128.12,376.45L125.97,372.15L130.27,372.15Z" fill="#ff69b4"/><path d="M132.00,376.45L129.85,372.15L134.15,372.15Z" fill="#ff69b4"/><path d="M135.89,376.45L133.74,372.15L138.04,372.15Z" fill="#ff69b4"/><path d="M139.77,376.45L137.62,372.15L141.92,372.15Z" fill="#ff69b4"/><path d="M143.65,376.45L141.50,372.15L145.80,372.15Z" fill="#ff69b4"/><path d="M147.53,376.45L145.38,372.15L149.68,372.15Z" fill="#ff69b4"/><path d="M151.41,376.45L149.26,372.15L153.56,372.15Z" fill="#ff69b4"/><path d="M155.30,376.45L153.15,372.15L157.45,372.15Z" fill="#ff69b4"/><path d="M159.18,376.45L157.03,372.15L161.33,372.15Z" fill="#ff69b4"/><path d="M163.06,376.75L160.91,372.45L165.21,372.45Z" fill="#ff69b4"/><path d="M166.94,376.75L164.79,372.45L169.09,372.45Z" fill="#ff69b4"/><path d="M170.82,376.75L168.67,372.45L172.97,372.45Z" fill="#ff69b4"/><path d="M174.71,376.75L172.56,372.45L176.86,372.45Z" fill="#ff69b4"/><path d="M178.59,376.75L176.44,372.45L180.74,372.45Z" fill="#ff69b4"/><path d="M182.47,376.75L180.32,372.45L184.62,372.45Z" fill="#ff69b4"/><path d="M186.35,376.75L184.20,372.45L188.50,372.45Z" fill="#ff69b4"/><path d="M190.23,376.75L188.08,372.45L192.38,372.45Z" fill="#ff69b4"/><path d="M194.12,376.75L191.97,372.45L196.27,372.45Z" fill="#ff69b4"/><path d="M198.00,376.75L195.85,372.45L200.15,372.45Z" fill="#ff69b4"/><path d="M201.88,376.75L199.73,372.45L204.03,372.45Z" fill="#ff69b4"/><path d="M205.76,376.75L203.61,372.45L207.91,372.45Z" fill="#ff69b4"/><path d="M209.64,376.75L207.49,372.45L211.79,372.45Z" fill="#ff69b4"/><path d="M213.53,376.75L211.38,372.45L215.68,372.45Z" fill="#ff69b4"/><path d="M217.41,376.75L215.26,372.45L219.56,372.45Z" fill="#ff69b4"/><path d="M221.29,376.75L219.14,372.45L223.44,372.45Z" fill="#ff69b4"/><path d="M225.17,376.75L223.02,372.45L227.32,372.45Z" fill="#ff69b4"/><path d="M229.05,376.75L226.90,372.45L231.20,372.45Z" fill="#ff69b4"/><path d="M232.94,376.75L230.79,372.45L235.09,372.45Z" fill="#ff69b4"/><path d="M236.82,376.75L234.67,372.45L238.97,372.45Z" fill="#ff69b4"/><path d="M240.70,376.75L238.55,372.45L242.85,372.45Z" fill="#ff69b4"/>
<polyline points="50.48,303.00 54.36,303.00 58.25,303.00 62.13,303.00 66.01,303.00 69.89,303.00 73.77,303.00 77.66,303.00 81.54,303.00 85.42,303.00 89.30,303.00 93.18,333.10 97.07,333.10 100.95,357.60 104.83,363.40 108.71,363.40 112.59,363.40 116.48,363.40 120.36,363.40 124.24,363.40 128.12,363.40 132.00,363.40 135.89,363.40 139.77,363.40 143.65,363.40 147.53,363.40 151.41,363.40 155.30,363.40 159.18,363.40 163.06,363.40 166.94,363.40 170.82,363.40 174.71,363.40 178.59,363.40 182.47,363.40 186.35,363.40 190.23,363.40 194.12,363.40 198.00,363.40 201.88,363.40 205.76,363.40 209.64,363.40 213.53,363.40 217.41,363.40 221.29,363.40 225.17,363.40 229.05,363.40 232.94,363.40 236.82,363.40 240.70,363.40" fill="none" stroke="#4169e1" stroke-width="1.3" stroke-dasharray="4.5,1.9" stroke-linejoin="round"/>
<path d="M49.18,303.00H51.78M50.48,301.70V304.30" stroke="#4169e1" stroke-width="0.7" fill="none"/><path d="M53.06,303.00H55.66M54.36,301.70V304.30" stroke="#4169e1" stroke-width="0.7" fill="none"/><path d="M56.95,303.00H59.55M58.25,301.70V304.30" stroke="#4169e1" stroke-width="0.7" fill="none"/><path d="M60.83,303.00H63.43M62.13,301.70V304.30" stroke="#4169e1" stroke-width="0.7" fill="none"/><path d="M64.71,303.00H67.31M66.01,301.70V304.30" stroke="#4169e1" stroke-width="0.7" fill="none"/><path d="M68.59,303.00H71.19M69.89,301.70V304.30" stroke="#4169e1" stroke-width="0.7" fill="none"/><path d="M72.47,303.00H75.07M73.77,301.70V304.30" stroke="#4169e1" stroke-width="0.7" fill="none"/><path d="M76.36,303.00H78.96M77.66,301.70V304.30" stroke="#4169e1" stroke-width="0.7" fill="none"/><path d="M80.24,303.00H82.84M81.54,301.70V304.30" stroke="#4169e1" stroke-width="0.7" fill="none"/><path d="M84.12,303.00H86.72M85.42,301.70V304.30" stroke="#4169e1" stroke-width="0.7" fill="none"/><path d="M88.00,303.00H90.60M89.30,301.70V304.30" stroke="#4169e1" stroke-width="0.7" fill="none"/><path d="M91.88,333.10H94.48M93.18,331.80V334.40" stroke="#4169e1" stroke-width="0.7" fill="none"/><path d="M95.77,333.10H98.37M97.07,331.80V334.40" stroke="#4169e1" stroke-width="0.7" fill="none"/><path d="M99.65,357.60H102.25M100.95,356.30V358.90" stroke="#4169e1" stroke-width="0.7" fill="none"/><path d="M103.53,363.40H106.13M104.83,362.10V364.70" stroke="#4169e1" stroke-width="0.7" fill="none"/><path d="M107.41,363.40H110.01M108.71,362.10V364.70" stroke="#4169e1" stroke-width="0.7" fill="none"/><path d="M111.29,363.40H113.89M112.59,362.10V364.70" stroke="#4169e1" stroke-width="0.7" fill="none"/><path d="M115.18,363.40H117.78M116.48,362.10V364.70" stroke="#4169e1" stroke-width="0.7" fill="none"/><path d="M119.06,363.40H121.66M120.36,362.10V364.70" stroke="#4169e1" stroke-width="0.7" fill="none"/><path d="M122.94,363.40H125.54M124.24,362.10V364.70" stroke="#4169e1" stroke-width="0.7" fill="none"/><path d="M126.82,363.40H129.42M128.12,362.10V364.70" stroke="#4169e1" stroke-width="0.7" fill="none"/><path d="M130.70,363.40H133.30M132.00,362.10V364.70" stroke="#4169e1" stroke-width="0.7" fill="none"/><path d="M134.59,363.40H137.19M135.89,362.10V364.70" stroke="#4169e1" stroke-width="0.7" fill="none"/><path d="M138.47,363.40H141.07M139.77,362.10V364.70" stroke="#4169e1" stroke-width="0.7" fill="none"/><path d="M142.35,363.40H144.95M143.65,362.10V364.70" stroke="#4169e1" stroke-width="0.7" fill="none"/><path d="M146.23,363.40H148.83M147.53,362.10V364.70" stroke="#4169e1" stroke-width="0.7" fill="none"/><path d="M150.11,363.40H152.71M151.41,362.10V364.70" stroke="#4169e1" stroke-width="0.7" fill="none"/><path d="M154.00,363.40H156.60M155.30,362.10V364.70" stroke="#4169e1" stroke-width="0.7" fill="none"/><path d="M157.88,363.40H160.48M159.18,362.10V364.70" stroke="#4169e1" stroke-width="0.7" fill="none"/><path d="M161.76,363.40H164.36M163.06,362.10V364.70" stroke="#4169e1" stroke-width="0.7" fill="none"/><path d="M165.64,363.40H168.24M166.94,362.10V364.70" stroke="#4169e1" stroke-width="0.7" fill="none"/><path d="M169.52,363.40H172.12M170.82,362.10V364.70" stroke="#4169e1" stroke-width="0.7" fill="none"/><path d="M173.41,363.40H176.01M174.71,362.10V364.70" stroke="#4169e1" stroke-width="0.7" fill="none"/><path d="M177.29,363.40H179.89M178.59,362.10V364.70" stroke="#4169e1" stroke-width="0.7" fill="none"/><path d="M181.17,363.40H183.77M182.47,362.10V364.70" stroke="#4169e1" stroke-width="0.7" fill="none"/><path d="M185.05,363.40H187.65M186.35,362.10V364.70" stroke="#4169e1" stroke-width="0.7" fill="none"/><path d="M188.93,363.40H191.53M190.23,362.10V364.70" stroke="#4169e1" stroke-width="0.7" fill="none"/><path d="M192.82,363.40H195.42M194.12,362.10V364.70" stroke="#4169e1" stroke-width="0.7" fill="none"/><path d="M196.70,363.40H199.30M198.00,362.10V364.70" stroke="#4169e1" stroke-width="0.7" fill="none"/><path d="M200.58,363.40H203.18M201.88,362.10V364.70" stroke="#4169e1" stroke-width="0.7" fill="none"/><path d="M204.46,363.40H207.06M205.76,362.10V364.70" stroke="#4169e1" stroke-width="0.7" fill="none"/><path d="M208.34,363.40H210.94M209.64,362.10V364.70" stroke="#4169e1" stroke-width="0.7" fill="none"/><path d="M212.23,363.40H214.83M213.53,362.10V364.70" stroke="#4169e1" stroke-width="0.7" fill="none"/><path d="M216.11,363.40H218.71M217.41,362.10V364.70" stroke="#4169e1" stroke-width="0.7" fill="none"/><path d="M219.99,363.40H222.59M221.29,362.10V364.70" stroke="#4169e1" stroke-width="0.7" fill="none"/><path d="M223.87,363.40H226.47M225.17,362.10V364.70" stroke="#4169e1" stroke-width="0.7" fill="none"/><path d="M227.75,363.40H230.35M229.05,362.10V364.70" stroke="#4169e1" stroke-width="0.7" fill="none"/><path d="M231.64,363.40H234.24M232.94,362.10V364.70" stroke="#4169e1" stroke-width="0.7" fill="none"/><path d="M235.52,363.40H238.12M236.82,362.10V364.70" stroke="#4169e1" stroke-width="0.7" fill="none"/><path d="M239.40,363.40H242.00M240.70,362.10V364.70" stroke="#4169e1" stroke-width="0.7" fill="none"/>
<polyline points="50.48,275.00 54.36,354.10 58.25,354.10 62.13,382.50 66.01,382.50 69.89,382.50 73.77,382.50 77.66,382.50 81.54,382.50 85.42,382.50 89.30,382.50 93.18,382.50 97.07,382.50 100.95,382.50 104.83,382.50 108.71,382.50 112.59,382.50 116.48,382.50 120.36,382.50 124.24,382.50 128.12,382.50 132.00,382.50 135.89,382.50 139.77,382.50 143.65,382.50 147.53,382.50 151.41,382.50 155.30,382.50 159.18,382.50 163.06,382.50 166.94,382.50 170.82,382.50 174.71,382.50 178.59,382.50 182.47,382.50 186.35,382.50 190.23,382.50 194.12,382.50 198.00,382.50 201.88,382.50 205.76,382.50 209.64,382.50 213.53,382.50 217.41,382.50 221.29,382.50 225.17,382.50 229.05,382.50 232.94,382.50 236.82,382.50 240.70,382.50" fill="none" stroke="#9acd32" stroke-width="1.3" stroke-dasharray="1.2,2.0" stroke-linejoin="round"/>
<path d="M50.48,272.80L48.28,277.20L52.68,277.20Z" fill="#9acd32"/><path d="M54.36,351.90L52.16,356.30L56.56,356.30Z" fill="#9acd32"/><path d="M58.25,351.90L56.05,356.30L60.45,356.30Z" fill="#9acd32"/><path d="M62.13,380.30L59.93,384.70L64.33,384.70Z" fill="#9acd32"/><path d="M66.01,380.30L63.81,384.70L68.21,384.70Z" fill="#9acd32"/><path d="M69.89,380.30L67.69,384.70L72.09,384.70Z" fill="#9acd32"/><path d="M73.77,380.30L71.57,384.70L75.97,384.70Z" fill="#9acd32"/><path d="M77.66,380.30L75.46,384.70L79.86,384.70Z" fill="#9acd32"/><path d="M81.54,380.30L79.34,384.70L83.74,384.70Z" fill="#9acd32"/><path d="M85.42,380.30L83.22,384.70L87.62,384.70Z" fill="#9acd32"/><path d="M89.30,380.30L87.10,384.70L91.50,384.70Z" fill="#9acd32"/><path d="M93.18,380.30L90.98,384.70L95.38,384.70Z" fill="#9acd32"/><path d="M97.07,380.30L94.87,384.70L99.27,384.70Z" fill="#9acd32"/><path d="M100.95,380.30L98.75,384.70L103.15,384.70Z" fill="#9acd32"/><path d="M104.83,380.30L102.63,384.70L107.03,384.70Z" fill="#9acd32"/><path d="M108.71,380.30L106.51,384.70L110.91,384.70Z" fill="#9acd32"/><path d="M112.59,380.30L110.39,384.70L114.79,384.70Z" fill="#9acd32"/><path d="M116.48,380.30L114.28,384.70L118.68,384.70Z" fill="#9acd32"/><path d="M120.36,380.30L118.16,384.70L122.56,384.70Z" fill="#9acd32"/><path d="M124.24,380.30L122.04,384.70L126.44,384.70Z" fill="#9acd32"/><path d="M128.12,380.30L125.92,384.70L130.32,384.70Z" fill="#9acd32"/><path d="M132.00,380.30L129.80,384.70L134.20,384.70Z" fill="#9acd32"/><path d="M135.89,380.30L133.69,384.70L138.09,384.70Z" fill="#9acd32"/><path d="M139.77,380.30L137.57,384.70L141.97,384.70Z" fill="#9acd32"/><path d="M143.65,380.30L141.45,384.70L145.85,384.70Z" fill="#9acd32"/><path d="M147.53,380.30L145.33,384.70L149.73,384.70Z" fill="#9acd32"/><path d="M151.41,380.30L149.21,384.70L153.61,384.70Z" fill="#9acd32"/><path d="M155.30,380.30L153.10,384.70L157.50,384.70Z" fill="#9acd32"/><path d="M159.18,380.30L156.98,384.70L161.38,384.70Z" fill="#9acd32"/><path d="M163.06,380.30L160.86,384.70L165.26,384.70Z" fill="#9acd32"/><path d="M166.94,380.30L164.74,384.70L169.14,384.70Z" fill="#9acd32"/><path d="M170.82,380.30L168.62,384.70L173.02,384.70Z" fill="#9acd32"/><path d="M174.71,380.30L172.51,384.70L176.91,384.70Z" fill="#9acd32"/><path d="M178.59,380.30L176.39,384.70L180.79,384.70Z" fill="#9acd32"/><path d="M182.47,380.30L180.27,384.70L184.67,384.70Z" fill="#9acd32"/><path d="M186.35,380.30L184.15,384.70L188.55,384.70Z" fill="#9acd32"/><path d="M190.23,380.30L188.03,384.70L192.43,384.70Z" fill="#9acd32"/><path d="M194.12,380.30L191.92,384.70L196.32,384.70Z" fill="#9acd32"/><path d="M198.00,380.30L195.80,384.70L200.20,384.70Z" fill="#9acd32"/><path d="M201.88,380.30L199.68,384.70L204.08,384.70Z" fill="#9acd32"/><path d="M205.76,380.30L203.56,384.70L207.96,384.70Z" fill="#9acd32"/><path d="M209.64,380.30L207.44,384.70L211.84,384.70Z" fill="#9acd32"/><path d="M213.53,380.30L211.33,384.70L215.73,384.70Z" fill="#9acd32"/><path d="M217.41,380.30L215.21,384.70L219.61,384.70Z" fill="#9acd32"/><path d="M221.29,380.30L219.09,384.70L223.49,384.70Z" fill="#9acd32"/><path d="M225.17,380.30L222.97,384.70L227.37,384.70Z" fill="#9acd32"/><path d="M229.05,380.30L226.85,384.70L231.25,384.70Z" fill="#9acd32"/><path d="M232.94,380.30L230.74,384.70L235.14,384.70Z" fill="#9acd32"/><path d="M236.82,380.30L234.62,384.70L239.02,384.70Z" fill="#9acd32"/><path d="M240.70,380.30L238.50,384.70L242.90,384.70Z" fill="#9acd32"/>
<polyline points="50.48,247.10 54.36,264.40 58.25,265.30 62.13,266.40 66.01,267.00 69.89,267.00 73.77,268.00 77.66,277.00 81.54,286.60 85.42,286.60 89.30,286.60 93.18,286.60 97.07,286.60 100.95,286.60 104.83,286.60 108.71,286.60 112.59,286.60 116.48,286.60 120.36,286.60 124.24,286.60 128.12,286.60 132.00,286.60 135.89,286.60 139.77,286.60 143.65,286.60 147.53,286.60 151.41,286.60 155.30,286.60 159.18,286.60 163.06,286.60 166.94,286.60 170.82,286.60 174.71,286.60 178.59,286.60 182.47,286.60 186.35,286.60 190.23,286.60 194.12,286.60 198.00,286.60 201.88,286.60 205.76,286.60 209.64,286.60 213.53,286.60 217.41,286.60 221.29,286.60 225.17,286.60 229.05,286.60 232.94,286.60 236.82,286.60 240.70,286.60" fill="none" stroke="#ffff00" stroke-width="1.3" stroke-dasharray="1.2,2.0" stroke-linejoin="round"/>
<circle cx="50.48" cy="247.10" r="1.3" fill="#ffff00"/><circle cx="54.36" cy="264.40" r="1.3" fill="#ffff00"/><circle cx="58.25" cy="265.30" r="1.3" fill="#ffff00"/><circle cx="62.13" cy="266.40" r="1.3" fill="#ffff00"/><circle cx="66.01" cy="267.00" r="1.3" fill="#ffff00"/><circle cx="69.89" cy="267.00" r="1.3" fill="#ffff00"/><circle cx="73.77" cy="268.00" r="1.3" fill="#ffff00"/><circle cx="77.66" cy="277.00" r="1.3" fill="#ffff00"/><circle cx="81.54" cy="286.60" r="1.3" fill="#ffff00"/><circle cx="85.42" cy="286.60" r="1.3" fill="#ffff00"/><circle cx="89.30" cy="286.60" r="1.3" fill="#ffff00"/><circle cx="93.18" cy="286.60" r="1.3" fill="#ffff00"/><circle cx="97.07" cy="286.60" r="1.3" fill="#ffff00"/><circle cx="100.95" cy="286.60" r="1.3" fill="#ffff00"/><circle cx="104.83" cy="286.60" r="1.3" fill="#ffff00"/><circle cx="108.71" cy="286.60" r="1.3" fill="#ffff00"/><circle cx="112.59" cy="286.60" r="1.3" fill="#ffff00"/><circle cx="116.48" cy="286.60" r="1.3" fill="#ffff00"/><circle cx="120.36" cy="286.60" r="1.3" fill="#ffff00"/><circle cx="124.24" cy="286.60" r="1.3" fill="#ffff00"/><circle cx="128.12" cy="286.60" r="1.3" fill="#ffff00"/><circle cx="132.00" cy="286.60" r="1.3" fill="#ffff00"/><circle cx="135.89" cy="286.60" r="1.3" fill="#ffff00"/><circle cx="139.77" cy="286.60" r="1.3" fill="#ffff00"/><circle cx="143.65" cy="286.60" r="1.3" fill="#ffff00"/><circle cx="147.53" cy="286.60" r="1.3" fill="#ffff00"/><circle cx="151.41" cy="286.60" r="1.3" fill="#ffff00"/><circle cx="155.30" cy="286.60" r="1.3" fill="#ffff00"/><circle cx="159.18" cy="286.60" r="1.3" fill="#ffff00"/><circle cx="163.06" cy="286.60" r="1.3" fill="#ffff00"/><circle cx="166.94" cy="286.60" r="1.3" fill="#ffff00"/><circle cx="170.82" cy="286.60" r="1.3" fill="#ffff00"/><circle cx="174.71" cy="286.60" r="1.3" fill="#ffff00"/><circle cx="178.59" cy="286.60" r="1.3" fill="#ffff00"/><circle cx="182.47" cy="286.60" r="1.3" fill="#ffff00"/><circle cx="186.35" cy="286.60" r="1.3" fill="#ffff00"/><circle cx="190.23" cy="286.60" r="1.3" fill="#ffff00"/><circle cx="194.12" cy="286.60" r="1.3" fill="#ffff00"/><circle cx="198.00" cy="286.60" r="1.3" fill="#ffff00"/><circle cx="201.88" cy="286.60" r="1.3" fill="#ffff00"/><circle cx="205.76" cy="286.60" r="1.3" fill="#ffff00"/><circle cx="209.64" cy="286.60" r="1.3" fill="#ffff00"/><circle cx="213.53" cy="286.60" r="1.3" fill="#ffff00"/><circle cx="217.41" cy="286.60" r="1.3" fill="#ffff00"/><circle cx="221.29" cy="286.60" r="1.3" fill="#ffff00"/><circle cx="225.17" cy="286.60" r="1.3" fill="#ffff00"/><circle cx="229.05" cy="286.60" r="1.3" fill="#ffff00"/><circle cx="232.94" cy="286.60" r="1.3" fill="#ffff00"/><circle cx="236.82" cy="286.60" r="1.3" fill="#ffff00"/><circle cx="240.70" cy="286.60" r="1.3" fill="#ffff00"/>
</svg>
<rect x="70.2" y="243.4" width="178.0" height="19.200000000000017" rx="1.2" fill="#fff" fill-opacity="0.8" stroke="#cccccc" stroke-width="0.5"/>
<path d="M71.80,248.30h12.8" stroke="#ff0000" stroke-width="1.3" fill="none"/>
<circle cx="78.20" cy="248.30" r="2.0" fill="#ff0000"/>
<text x="89.10" y="250.50" font-size="6.2" text-anchor="start" textLength="28.43" lengthAdjust="spacingAndGlyphs">BWO-BOA</text>
<path d="M71.80,257.30h12.8" stroke="#ff8c00" stroke-width="1.3" stroke-dasharray="7.7,1.9,1.2,1.9" fill="none"/>
<circle cx="78.20" cy="257.30" r="1.5" fill="#ff8c00"/>
<text x="89.10" y="259.50" font-size="6.2" text-anchor="start" textLength="12.31" lengthAdjust="spacingAndGlyphs">BOA</text>
<path d="M129.10,248.30h12.8" stroke="#0000ff" stroke-width="1.3" fill="none"/>
<circle cx="135.50" cy="248.30" r="2.0" fill="#0000ff"/>
<text x="146.40" y="250.50" font-size="6.2" text-anchor="start" textLength="14.07" lengthAdjust="spacingAndGlyphs">BWO</text>
<path d="M129.10,257.30h12.8" stroke="#ff69b4" stroke-width="1.3" stroke-dasharray="4.5,1.9" fill="none"/>
<path d="M135.50,259.45L133.35,255.15L137.65,255.15Z" fill="#ff69b4"/>
<text x="146.40" y="259.50" font-size="6.2" text-anchor="start" textLength="11.74" lengthAdjust="spacingAndGlyphs">PSO</text>
<path d="M170.80,248.30h12.8" stroke="#4169e1" stroke-width="1.3" stroke-dasharray="4.5,1.9" fill="none"/>
<path d="M175.90,248.30H178.50M177.20,247.00V249.60" stroke="#4169e1" stroke-width="0.7" fill="none"/>
<text x="188.10" y="250.50" font-size="6.2" text-anchor="start" textLength="11.44" lengthAdjust="spacingAndGlyphs">SSA</text>
<path d="M170.80,257.30h12.8" stroke="#9acd32" stroke-width="1.3" stroke-dasharray="1.2,2.0" fill="none"/>
<path d="M177.20,255.10L175.00,259.50L179.40,259.50Z" fill="#9acd32"/>
<text x="188.10" y="259.50" font-size="6.2" text-anchor="start" textLength="14.02" lengthAdjust="spacingAndGlyphs">IBOA</text>
<path d="M213.40,248.30h12.8" stroke="#ffff00" stroke-width="1.3" stroke-dasharray="1.2,2.0" fill="none"/>
<circle cx="219.80" cy="248.30" r="1.3" fill="#ffff00"/>
<text x="230.70" y="250.50" font-size="6.2" text-anchor="start" textLength="14.17" lengthAdjust="spacingAndGlyphs">WOA</text>
<rect x="40.4" y="240.5" width="209.90" height="156.20" fill="none" stroke="#333" stroke-width="0.75"/>
<path d="M46.60,396.70v2.2M85.42,396.70v2.2M124.24,396.70v2.2M163.06,396.70v2.2M201.88,396.70v2.2M240.70,396.70v2.2M40.40,388.44h-2.0M40.40,370.61h-2.0M40.40,352.78h-2.0M40.40,334.95h-2.0M40.40,317.12h-2.0M40.40,299.29h-2.0M40.40,281.46h-2.0M40.40,263.63h-2.0M40.40,245.80h-2.0" stroke="#333" stroke-width="0.7" fill="none"/>
<text x="46.60" y="405.90" font-size="5.77" text-anchor="middle" textLength="3.56" lengthAdjust="spacingAndGlyphs">0</text>
<text x="85.42" y="405.90" font-size="5.77" text-anchor="middle" textLength="7.12" lengthAdjust="spacingAndGlyphs">10</text>
<text x="124.24" y="405.90" font-size="5.77" text-anchor="middle" textLength="7.12" lengthAdjust="spacingAndGlyphs">20</text>
<text x="163.06" y="405.90" font-size="5.77" text-anchor="middle" textLength="7.12" lengthAdjust="spacingAndGlyphs">30</text>
<text x="201.88" y="405.90" font-size="5.77" text-anchor="middle" textLength="7.12" lengthAdjust="spacingAndGlyphs">40</text>
<text x="240.70" y="405.90" font-size="5.77" text-anchor="middle" textLength="7.12" lengthAdjust="spacingAndGlyphs">50</text>
<text x="35.90" y="390.49" font-size="5.77" text-anchor="end" textLength="16.02" lengthAdjust="spacingAndGlyphs">0.040</text>
<text x="35.90" y="372.66" font-size="5.77" text-anchor="end" textLength="16.02" lengthAdjust="spacingAndGlyphs">0.045</text>
<text x="35.90" y="354.83" font-size="5.77" text-anchor="end" textLength="16.02" lengthAdjust="spacingAndGlyphs">0.050</text>
<text x="35.90" y="337.00" font-size="5.77" text-anchor="end" textLength="16.02" lengthAdjust="spacingAndGlyphs">0.055</text>
<text x="35.90" y="319.17" font-size="5.77" text-anchor="end" textLength="16.02" lengthAdjust="spacingAndGlyphs">0.060</text>
<text x="35.90" y="301.34" font-size="5.77" text-anchor="end" textLength="16.02" lengthAdjust="spacingAndGlyphs">0.065</text>
<text x="35.90" y="283.51" font-size="5.77" text-anchor="end" textLength="16.02" lengthAdjust="spacingAndGlyphs">0.070</text>
<text x="35.90" y="265.68" font-size="5.77" text-anchor="end" textLength="16.02" lengthAdjust="spacingAndGlyphs">0.075</text>
<text x="35.90" y="247.85" font-size="5.77" text-anchor="end" textLength="16.02" lengthAdjust="spacingAndGlyphs">0.080</text>
<text x="145.35" y="236.60" font-size="7.5" text-anchor="middle" textLength="47.91" lengthAdjust="spacingAndGlyphs">20% Data Set</text>
<text x="145.35" y="413.30" font-size="6.0" text-anchor="middle" textLength="60.41" lengthAdjust="spacingAndGlyphs">Number of Iterations</text>
<text x="0" y="0" font-size="6.0" text-anchor="middle" textLength="20.19" lengthAdjust="spacingAndGlyphs" transform="translate(17.00,319.40) rotate(-90)">Fitness</text>
<text x="141.80" y="432.50" font-size="13.0" text-anchor="middle" class="cap">(<tspan font-weight="bold" style="stroke-width:0">c</tspan>)</text>
<path d="M335.95,239.60V396.70M375.00,239.60V396.70M414.05,239.60V396.70M453.10,239.60V396.70M492.15,239.60V396.70M531.20,239.60V396.70M330.60,379.00H541.20M330.60,353.82H541.20M330.60,328.64H541.20M330.60,303.46H541.20M330.60,278.28H541.20M330.60,253.10H541.20" stroke="#b0b0b0" stroke-opacity="0.7" stroke-width="0.6" fill="none"/>
<svg x="330.6" y="239.6" width="210.60000000000002" height="157.1" viewBox="330.6 239.6 210.60000000000002 157.1" overflow="hidden">
<polyline points="339.85,305.40 343.76,329.20 347.66,339.20 351.57,339.60 355.47,341.20 359.38,342.80 363.28,345.00 367.19,377.40 371.09,377.40 375.00,377.40 378.90,386.60 382.81,388.80 386.71,389.60 390.62,389.60 394.52,389.60 398.43,389.60 402.33,389.60 406.24,389.60 410.14,389.60 414.05,389.80 417.95,389.80 421.86,389.80 425.76,389.80 429.67,389.80 433.57,389.80 437.48,389.80 441.38,389.80 445.29,389.80 449.19,389.80 453.10,389.80 457.00,389.80 460.91,389.80 464.81,389.80 468.72,389.80 472.62,389.80 476.53,389.80 480.43,389.80 484.34,389.80 488.25,389.80 492.15,389.80 496.05,389.80 499.96,389.80 503.87,389.80 507.77,389.80 511.67,389.80 515.58,389.80 519.49,389.80 523.39,389.80 527.29,389.80 531.20,389.80" fill="none" stroke="#ff0000" stroke-width="1.3" stroke-linejoin="round"/>
<circle cx="339.85" cy="305.40" r="2.0" fill="#ff0000"/><circle cx="343.76" cy="329.20" r="2.0" fill="#ff0000"/><circle cx="347.66" cy="339.20" r="2.0" fill="#ff0000"/><circle cx="351.57" cy="339.60" r="2.0" fill="#ff0000"/><circle cx="355.47" cy="341.20" r="2.0" fill="#ff0000"/><circle cx="359.38" cy="342.80" r="2.0" fill="#ff0000"/><circle cx="363.28" cy="345.00" r="2.0" fill="#ff0000"/><circle cx="367.19" cy="377.40" r="2.0" fill="#ff0000"/><circle cx="371.09" cy="377.40" r="2.0" fill="#ff0000"/><circle cx="375.00" cy="377.40" r="2.0" fill="#ff0000"/><circle cx="378.90" cy="386.60" r="2.0" fill="#ff0000"/><circle cx="382.81" cy="388.80" r="2.0" fill="#ff0000"/><circle cx="386.71" cy="389.60" r="2.0" fill="#ff0000"/><circle cx="390.62" cy="389.60" r="2.0" fill="#ff0000"/><circle cx="394.52" cy="389.60" r="2.0" fill="#ff0000"/><circle cx="398.43" cy="389.60" r="2.0" fill="#ff0000"/><circle cx="402.33" cy="389.60" r="2.0" fill="#ff0000"/><circle cx="406.24" cy="389.60" r="2.0" fill="#ff0000"/><circle cx="410.14" cy="389.60" r="2.0" fill="#ff0000"/><circle cx="414.05" cy="389.80" r="2.0" fill="#ff0000"/><circle cx="417.95" cy="389.80" r="2.0" fill="#ff0000"/><circle cx="421.86" cy="389.80" r="2.0" fill="#ff0000"/><circle cx="425.76" cy="389.80" r="2.0" fill="#ff0000"/><circle cx="429.67" cy="389.80" r="2.0" fill="#ff0000"/><circle cx="433.57" cy="389.80" r="2.0" fill="#ff0000"/><circle cx="437.48" cy="389.80" r="2.0" fill="#ff0000"/><circle cx="441.38" cy="389.80" r="2.0" fill="#ff0000"/><circle cx="445.29" cy="389.80" r="2.0" fill="#ff0000"/><circle cx="449.19" cy="389.80" r="2.0" fill="#ff0000"/><circle cx="453.10" cy="389.80" r="2.0" fill="#ff0000"/><circle cx="457.00" cy="389.80" r="2.0" fill="#ff0000"/><circle cx="460.91" cy="389.80" r="2.0" fill="#ff0000"/><circle cx="464.81" cy="389.80" r="2.0" fill="#ff0000"/><circle cx="468.72" cy="389.80" r="2.0" fill="#ff0000"/><circle cx="472.62" cy="389.80" r="2.0" fill="#ff0000"/><circle cx="476.53" cy="389.80" r="2.0" fill="#ff0000"/><circle cx="480.43" cy="389.80" r="2.0" fill="#ff0000"/><circle cx="484.34" cy="389.80" r="2.0" fill="#ff0000"/><circle cx="488.25" cy="389.80" r="2.0" fill="#ff0000"/><circle cx="492.15" cy="389.80" r="2.0" fill="#ff0000"/><circle cx="496.05" cy="389.80" r="2.0" fill="#ff0000"/><circle cx="499.96" cy="389.80" r="2.0" fill="#ff0000"/><circle cx="503.87" cy="389.80" r="2.0" fill="#ff0000"/><circle cx="507.77" cy="389.80" r="2.0" fill="#ff0000"/><circle cx="511.67" cy="389.80" r="2.0" fill="#ff0000"/><circle cx="515.58" cy="389.80" r="2.0" fill="#ff0000"/><circle cx="519.49" cy="389.80" r="2.0" fill="#ff0000"/><circle cx="523.39" cy="389.80" r="2.0" fill="#ff0000"/><circle cx="527.29" cy="389.80" r="2.0" fill="#ff0000"/><circle cx="531.20" cy="389.80" r="2.0" fill="#ff0000"/>
<polyline points="339.85,286.40 343.76,287.20 347.66,287.20 351.57,288.00 355.47,288.00 359.38,288.00 363.28,288.00 367.19,288.00 371.09,288.00 375.00,288.00 378.90,288.00 382.81,288.00 386.71,288.00 390.62,288.00 394.52,288.00 398.43,288.00 402.33,288.00 406.24,288.00 410.14,288.00 414.05,288.00 417.95,288.00 421.86,288.00 425.76,288.00 429.67,288.00 433.57,288.00 437.48,288.00 441.38,288.00 445.29,288.00 449.19,288.00 453.10,288.00 457.00,288.00 460.91,288.00 464.81,288.00 468.72,288.00 472.62,288.00 476.53,288.00 480.43,288.00 484.34,288.00 488.25,288.00 492.15,288.00 496.05,288.00 499.96,288.00 503.87,288.00 507.77,288.00 511.67,288.00 515.58,288.00 519.49,288.00 523.39,288.00 527.29,288.00 531.20,288.00" fill="none" stroke="#ff8c00" stroke-width="1.3" stroke-dasharray="7.7,1.9,1.2,1.9" stroke-linejoin="round"/>
<circle cx="339.85" cy="286.40" r="1.5" fill="#ff8c00"/><circle cx="343.76" cy="287.20" r="1.5" fill="#ff8c00"/><circle cx="347.66" cy="287.20" r="1.5" fill="#ff8c00"/><circle cx="351.57" cy="288.00" r="1.5" fill="#ff8c00"/><circle cx="355.47" cy="288.00" r="1.5" fill="#ff8c00"/><circle cx="359.38" cy="288.00" r="1.5" fill="#ff8c00"/><circle cx="363.28" cy="288.00" r="1.5" fill="#ff8c00"/><circle cx="367.19" cy="288.00" r="1.5" fill="#ff8c00"/><circle cx="371.09" cy="288.00" r="1.5" fill="#ff8c00"/><circle cx="375.00" cy="288.00" r="1.5" fill="#ff8c00"/><circle cx="378.90" cy="288.00" r="1.5" fill="#ff8c00"/><circle cx="382.81" cy="288.00" r="1.5" fill="#ff8c00"/><circle cx="386.71" cy="288.00" r="1.5" fill="#ff8c00"/><circle cx="390.62" cy="288.00" r="1.5" fill="#ff8c00"/><circle cx="394.52" cy="288.00" r="1.5" fill="#ff8c00"/><circle cx="398.43" cy="288.00" r="1.5" fill="#ff8c00"/><circle cx="402.33" cy="288.00" r="1.5" fill="#ff8c00"/><circle cx="406.24" cy="288.00" r="1.5" fill="#ff8c00"/><circle cx="410.14" cy="288.00" r="1.5" fill="#ff8c00"/><circle cx="414.05" cy="288.00" r="1.5" fill="#ff8c00"/><circle cx="417.95" cy="288.00" r="1.5" fill="#ff8c00"/><circle cx="421.86" cy="288.00" r="1.5" fill="#ff8c00"/><circle cx="425.76" cy="288.00" r="1.5" fill="#ff8c00"/><circle cx="429.67" cy="288.00" r="1.5" fill="#ff8c00"/><circle cx="433.57" cy="288.00" r="1.5" fill="#ff8c00"/><circle cx="437.48" cy="288.00" r="1.5" fill="#ff8c00"/><circle cx="441.38" cy="288.00" r="1.5" fill="#ff8c00"/><circle cx="445.29" cy="288.00" r="1.5" fill="#ff8c00"/><circle cx="449.19" cy="288.00" r="1.5" fill="#ff8c00"/><circle cx="453.10" cy="288.00" r="1.5" fill="#ff8c00"/><circle cx="457.00" cy="288.00" r="1.5" fill="#ff8c00"/><circle cx="460.91" cy="288.00" r="1.5" fill="#ff8c00"/><circle cx="464.81" cy="288.00" r="1.5" fill="#ff8c00"/><circle cx="468.72" cy="288.00" r="1.5" fill="#ff8c00"/><circle cx="472.62" cy="288.00" r="1.5" fill="#ff8c00"/><circle cx="476.53" cy="288.00" r="1.5" fill="#ff8c00"/><circle cx="480.43" cy="288.00" r="1.5" fill="#ff8c00"/><circle cx="484.34" cy="288.00" r="1.5" fill="#ff8c00"/><circle cx="488.25" cy="288.00" r="1.5" fill="#ff8c00"/><circle cx="492.15" cy="288.00" r="1.5" fill="#ff8c00"/><circle cx="496.05" cy="288.00" r="1.5" fill="#ff8c00"/><circle cx="499.96" cy="288.00" r="1.5" fill="#ff8c00"/><circle cx="503.87" cy="288.00" r="1.5" fill="#ff8c00"/><circle cx="507.77" cy="288.00" r="1.5" fill="#ff8c00"/><circle cx="511.67" cy="288.00" r="1.5" fill="#ff8c00"/><circle cx="515.58" cy="288.00" r="1.5" fill="#ff8c00"/><circle cx="519.49" cy="288.00" r="1.5" fill="#ff8c00"/><circle cx="523.39" cy="288.00" r="1.5" fill="#ff8c00"/><circle cx="527.29" cy="288.00" r="1.5" fill="#ff8c00"/><circle cx="531.20" cy="288.00" r="1.5" fill="#ff8c00"/>
<polyline points="339.85,268.50 343.76,311.00 347.66,321.40 351.57,322.50 355.47,332.60 359.38,340.00 363.28,344.40 367.19,344.40 371.09,352.00 375.00,352.60 378.90,380.80 382.81,380.80 386.71,380.80 390.62,380.80 394.52,380.80 398.43,380.80 402.33,380.80 406.24,380.80 410.14,380.80 414.05,381.10 417.95,381.10 421.86,381.10 425.76,381.10 429.67,381.10 433.57,381.10 437.48,381.10 441.38,381.10 445.29,381.10 449.19,381.10 453.10,381.10 457.00,381.10 460.91,381.10 464.81,381.10 468.72,381.10 472.62,381.10 476.53,381.10 480.43,381.10 484.34,381.10 488.25,381.10 492.15,381.10 496.05,381.10 499.96,381.10 503.87,381.10 507.77,381.10 511.67,381.10 515.58,381.10 519.49,384.20 523.39,384.50 527.29,385.40 531.20,385.40" fill="none" stroke="#0000ff" stroke-width="1.3" stroke-linejoin="round"/>
<circle cx="339.85" cy="268.50" r="2.0" fill="#0000ff"/><circle cx="343.76" cy="311.00" r="2.0" fill="#0000ff"/><circle cx="347.66" cy="321.40" r="2.0" fill="#0000ff"/><circle cx="351.57" cy="322.50" r="2.0" fill="#0000ff"/><circle cx="355.47" cy="332.60" r="2.0" fill="#0000ff"/><circle cx="359.38" cy="340.00" r="2.0" fill="#0000ff"/><circle cx="363.28" cy="344.40" r="2.0" fill="#0000ff"/><circle cx="367.19" cy="344.40" r="2.0" fill="#0000ff"/><circle cx="371.09" cy="352.00" r="2.0" fill="#0000ff"/><circle cx="375.00" cy="352.60" r="2.0" fill="#0000ff"/><circle cx="378.90" cy="380.80" r="2.0" fill="#0000ff"/><circle cx="382.81" cy="380.80" r="2.0" fill="#0000ff"/><circle cx="386.71" cy="380.80" r="2.0" fill="#0000ff"/><circle cx="390.62" cy="380.80" r="2.0" fill="#0000ff"/><circle cx="394.52" cy="380.80" r="2.0" fill="#0000ff"/><circle cx="398.43" cy="380.80" r="2.0" fill="#0000ff"/><circle cx="402.33" cy="380.80" r="2.0" fill="#0000ff"/><circle cx="406.24" cy="380.80" r="2.0" fill="#0000ff"/><circle cx="410.14" cy="380.80" r="2.0" fill="#0000ff"/><circle cx="414.05" cy="381.10" r="2.0" fill="#0000ff"/><circle cx="417.95" cy="381.10" r="2.0" fill="#0000ff"/><circle cx="421.86" cy="381.10" r="2.0" fill="#0000ff"/><circle cx="425.76" cy="381.10" r="2.0" fill="#0000ff"/><circle cx="429.67" cy="381.10" r="2.0" fill="#0000ff"/><circle cx="433.57" cy="381.10" r="2.0" fill="#0000ff"/><circle cx="437.48" cy="381.10" r="2.0" fill="#0000ff"/><circle cx="441.38" cy="381.10" r="2.0" fill="#0000ff"/><circle cx="445.29" cy="381.10" r="2.0" fill="#0000ff"/><circle cx="449.19" cy="381.10" r="2.0" fill="#0000ff"/><circle cx="453.10" cy="381.10" r="2.0" fill="#0000ff"/><circle cx="457.00" cy="381.10" r="2.0" fill="#0000ff"/><circle cx="460.91" cy="381.10" r="2.0" fill="#0000ff"/><circle cx="464.81" cy="381.10" r="2.0" fill="#0000ff"/><circle cx="468.72" cy="381.10" r="2.0" fill="#0000ff"/><circle cx="472.62" cy="381.10" r="2.0" fill="#0000ff"/><circle cx="476.53" cy="381.10" r="2.0" fill="#0000ff"/><circle cx="480.43" cy="381.10" r="2.0" fill="#0000ff"/><circle cx="484.34" cy="381.10" r="2.0" fill="#0000ff"/><circle cx="488.25" cy="381.10" r="2.0" fill="#0000ff"/><circle cx="492.15" cy="381.10" r="2.0" fill="#0000ff"/><circle cx="496.05" cy="381.10" r="2.0" fill="#0000ff"/><circle cx="499.96" cy="381.10" r="2.0" fill="#0000ff"/><circle cx="503.87" cy="381.10" r="2.0" fill="#0000ff"/><circle cx="507.77" cy="381.10" r="2.0" fill="#0000ff"/><circle cx="511.67" cy="381.10" r="2.0" fill="#0000ff"/><circle cx="515.58" cy="381.10" r="2.0" fill="#0000ff"/><circle cx="519.49" cy="384.20" r="2.0" fill="#0000ff"/><circle cx="523.39" cy="384.50" r="2.0" fill="#0000ff"/><circle cx="527.29" cy="385.40" r="2.0" fill="#0000ff"/><circle cx="531.20" cy="385.40" r="2.0" fill="#0000ff"/>
<polyline points="339.85,252.00 343.76,262.80 347.66,273.30 351.57,292.00 355.47,320.30 359.38,320.30 363.28,322.40 367.19,326.00 371.09,331.50 375.00,344.80 378.90,345.30 382.81,356.10 386.71,357.50 390.62,358.00 394.52,358.00 398.43,359.00 402.33,359.00 406.24,360.00 410.14,360.60 414.05,360.60 417.95,360.60 421.86,360.60 425.76,360.60 429.67,360.60 433.57,360.60 437.48,360.60 441.38,360.60 445.29,360.60 449.19,360.60 453.10,360.60 457.00,360.60 460.91,360.60 464.81,360.60 468.72,360.60 472.62,360.60 476.53,360.60 480.43,360.60 484.34,360.60 488.25,360.60 492.15,360.60 496.05,360.60 499.96,360.60 503.87,360.60 507.77,360.60 511.67,360.60 515.58,360.60 519.49,360.60 523.39,360.60 527.29,360.60 531.20,360.60" fill="none" stroke="#ff69b4" stroke-width="1.3" stroke-dasharray="4.5,1.9" stroke-linejoin="round"/>
<path d="M339.85,254.15L337.70,249.85L342.00,249.85Z" fill="#ff69b4"/><path d="M343.76,264.95L341.61,260.65L345.91,260.65Z" fill="#ff69b4"/><path d="M347.66,275.45L345.51,271.15L349.81,271.15Z" fill="#ff69b4"/><path d="M351.57,294.15L349.42,289.85L353.72,289.85Z" fill="#ff69b4"/><path d="M355.47,322.45L353.32,318.15L357.62,318.15Z" fill="#ff69b4"/><path d="M359.38,322.45L357.23,318.15L361.53,318.15Z" fill="#ff69b4"/><path d="M363.28,324.55L361.13,320.25L365.43,320.25Z" fill="#ff69b4"/><path d="M367.19,328.15L365.04,323.85L369.34,323.85Z" fill="#ff69b4"/><path d="M371.09,333.65L368.94,329.35L373.24,329.35Z" fill="#ff69b4"/><path d="M375.00,346.95L372.85,342.65L377.15,342.65Z" fill="#ff69b4"/><path d="M378.90,347.45L376.75,343.15L381.05,343.15Z" fill="#ff69b4"/><path d="M382.81,358.25L380.66,353.95L384.96,353.95Z" fill="#ff69b4"/><path d="M386.71,359.65L384.56,355.35L388.86,355.35Z" fill="#ff69b4"/><path d="M390.62,360.15L388.47,355.85L392.77,355.85Z" fill="#ff69b4"/><path d="M394.52,360.15L392.38,355.85L396.67,355.85Z" fill="#ff69b4"/><path d="M398.43,361.15L396.28,356.85L400.58,356.85Z" fill="#ff69b4"/><path d="M402.33,361.15L400.19,356.85L404.48,356.85Z" fill="#ff69b4"/><path d="M406.24,362.15L404.09,357.85L408.39,357.85Z" fill="#ff69b4"/><path d="M410.14,362.75L408.00,358.45L412.29,358.45Z" fill="#ff69b4"/><path d="M414.05,362.75L411.90,358.45L416.20,358.45Z" fill="#ff69b4"/><path d="M417.95,362.75L415.81,358.45L420.10,358.45Z" fill="#ff69b4"/><path d="M421.86,362.75L419.71,358.45L424.01,358.45Z" fill="#ff69b4"/><path d="M425.76,362.75L423.62,358.45L427.91,358.45Z" fill="#ff69b4"/><path d="M429.67,362.75L427.52,358.45L431.82,358.45Z" fill="#ff69b4"/><path d="M433.57,362.75L431.43,358.45L435.72,358.45Z" fill="#ff69b4"/><path d="M437.48,362.75L435.33,358.45L439.63,358.45Z" fill="#ff69b4"/><path d="M441.38,362.75L439.24,358.45L443.53,358.45Z" fill="#ff69b4"/><path d="M445.29,362.75L443.14,358.45L447.44,358.45Z" fill="#ff69b4"/><path d="M449.19,362.75L447.05,358.45L451.34,358.45Z" fill="#ff69b4"/><path d="M453.10,362.75L450.95,358.45L455.25,358.45Z" fill="#ff69b4"/><path d="M457.00,362.75L454.86,358.45L459.15,358.45Z" fill="#ff69b4"/><path d="M460.91,362.75L458.76,358.45L463.06,358.45Z" fill="#ff69b4"/><path d="M464.81,362.75L462.66,358.45L466.96,358.45Z" fill="#ff69b4"/><path d="M468.72,362.75L466.57,358.45L470.87,358.45Z" fill="#ff69b4"/><path d="M472.62,362.75L470.48,358.45L474.77,358.45Z" fill="#ff69b4"/><path d="M476.53,362.75L474.38,358.45L478.68,358.45Z" fill="#ff69b4"/><path d="M480.43,362.75L478.28,358.45L482.58,358.45Z" fill="#ff69b4"/><path d="M484.34,362.75L482.19,358.45L486.49,358.45Z" fill="#ff69b4"/><path d="M488.25,362.75L486.10,358.45L490.39,358.45Z" fill="#ff69b4"/><path d="M492.15,362.75L490.00,358.45L494.30,358.45Z" fill="#ff69b4"/><path d="M496.05,362.75L493.90,358.45L498.20,358.45Z" fill="#ff69b4"/><path d="M499.96,362.75L497.81,358.45L502.11,358.45Z" fill="#ff69b4"/><path d="M503.87,362.75L501.72,358.45L506.01,358.45Z" fill="#ff69b4"/><path d="M507.77,362.75L505.62,358.45L509.92,358.45Z" fill="#ff69b4"/><path d="M511.67,362.75L509.52,358.45L513.82,358.45Z" fill="#ff69b4"/><path d="M515.58,362.75L513.43,358.45L517.73,358.45Z" fill="#ff69b4"/><path d="M519.49,362.75L517.34,358.45L521.63,358.45Z" fill="#ff69b4"/><path d="M523.39,362.75L521.24,358.45L525.54,358.45Z" fill="#ff69b4"/><path d="M527.29,362.75L525.14,358.45L529.44,358.45Z" fill="#ff69b4"/><path d="M531.20,362.75L529.05,358.45L533.35,358.45Z" fill="#ff69b4"/>
<polyline points="339.85,248.70 343.76,285.50 347.66,285.50 351.57,285.50 355.47,285.50 359.38,285.50 363.28,285.50 367.19,285.50 371.09,285.50 375.00,285.50 378.90,285.50 382.81,285.50 386.71,285.50 390.62,285.50 394.52,285.50 398.43,318.20 402.33,328.80 406.24,328.80 410.14,328.80 414.05,328.80 417.95,328.80 421.86,328.80 425.76,328.80 429.67,328.80 433.57,328.80 437.48,328.80 441.38,328.80 445.29,328.80 449.19,328.80 453.10,328.80 457.00,328.80 460.91,328.80 464.81,328.80 468.72,328.80 472.62,328.80 476.53,328.80 480.43,328.80 484.34,328.80 488.25,328.80 492.15,328.80 496.05,328.80 499.96,328.80 503.87,328.80 507.77,328.80 511.67,328.80 515.58,328.80 519.49,328.80 523.39,328.80 527.29,328.80 531.20,328.80" fill="none" stroke="#4169e1" stroke-width="1.3" stroke-dasharray="4.5,1.9" stroke-linejoin="round"/>
<path d="M338.55,248.70H341.15M339.85,247.40V250.00" stroke="#4169e1" stroke-width="0.7" fill="none"/><path d="M342.46,285.50H345.06M343.76,284.20V286.80" stroke="#4169e1" stroke-width="0.7" fill="none"/><path d="M346.36,285.50H348.96M347.66,284.20V286.80" stroke="#4169e1" stroke-width="0.7" fill="none"/><path d="M350.27,285.50H352.87M351.57,284.20V286.80" stroke="#4169e1" stroke-width="0.7" fill="none"/><path d="M354.17,285.50H356.77M355.47,284.20V286.80" stroke="#4169e1" stroke-width="0.7" fill="none"/><path d="M358.08,285.50H360.68M359.38,284.20V286.80" stroke="#4169e1" stroke-width="0.7" fill="none"/><path d="M361.98,285.50H364.58M363.28,284.20V286.80" stroke="#4169e1" stroke-width="0.7" fill="none"/><path d="M365.89,285.50H368.49M367.19,284.20V286.80" stroke="#4169e1" stroke-width="0.7" fill="none"/><path d="M369.79,285.50H372.39M371.09,284.20V286.80" stroke="#4169e1" stroke-width="0.7" fill="none"/><path d="M373.70,285.50H376.30M375.00,284.20V286.80" stroke="#4169e1" stroke-width="0.7" fill="none"/><path d="M377.60,285.50H380.20M378.90,284.20V286.80" stroke="#4169e1" stroke-width="0.7" fill="none"/><path d="M381.51,285.50H384.11M382.81,284.20V286.80" stroke="#4169e1" stroke-width="0.7" fill="none"/><path d="M385.41,285.50H388.01M386.71,284.20V286.80" stroke="#4169e1" stroke-width="0.7" fill="none"/><path d="M389.32,285.50H391.92M390.62,284.20V286.80" stroke="#4169e1" stroke-width="0.7" fill="none"/><path d="M393.22,285.50H395.82M394.52,284.20V286.80" stroke="#4169e1" stroke-width="0.7" fill="none"/><path d="M397.13,318.20H399.73M398.43,316.90V319.50" stroke="#4169e1" stroke-width="0.7" fill="none"/><path d="M401.03,328.80H403.63M402.33,327.50V330.10" stroke="#4169e1" stroke-width="0.7" fill="none"/><path d="M404.94,328.80H407.54M406.24,327.50V330.10" stroke="#4169e1" stroke-width="0.7" fill="none"/><path d="M408.84,328.80H411.44M410.14,327.50V330.10" stroke="#4169e1" stroke-width="0.7" fill="none"/><path d="M412.75,328.80H415.35M414.05,327.50V330.10" stroke="#4169e1" stroke-width="0.7" fill="none"/><path d="M416.65,328.80H419.25M417.95,327.50V330.10" stroke="#4169e1" stroke-width="0.7" fill="none"/><path d="M420.56,328.80H423.16M421.86,327.50V330.10" stroke="#4169e1" stroke-width="0.7" fill="none"/><path d="M424.46,328.80H427.06M425.76,327.50V330.10" stroke="#4169e1" stroke-width="0.7" fill="none"/><path d="M428.37,328.80H430.97M429.67,327.50V330.10" stroke="#4169e1" stroke-width="0.7" fill="none"/><path d="M432.27,328.80H434.88M433.57,327.50V330.10" stroke="#4169e1" stroke-width="0.7" fill="none"/><path d="M436.18,328.80H438.78M437.48,327.50V330.10" stroke="#4169e1" stroke-width="0.7" fill="none"/><path d="M440.08,328.80H442.69M441.38,327.50V330.10" stroke="#4169e1" stroke-width="0.7" fill="none"/><path d="M443.99,328.80H446.59M445.29,327.50V330.10" stroke="#4169e1" stroke-width="0.7" fill="none"/><path d="M447.89,328.80H450.50M449.19,327.50V330.10" stroke="#4169e1" stroke-width="0.7" fill="none"/><path d="M451.80,328.80H454.40M453.10,327.50V330.10" stroke="#4169e1" stroke-width="0.7" fill="none"/><path d="M455.70,328.80H458.31M457.00,327.50V330.10" stroke="#4169e1" stroke-width="0.7" fill="none"/><path d="M459.61,328.80H462.21M460.91,327.50V330.10" stroke="#4169e1" stroke-width="0.7" fill="none"/><path d="M463.51,328.80H466.11M464.81,327.50V330.10" stroke="#4169e1" stroke-width="0.7" fill="none"/><path d="M467.42,328.80H470.02M468.72,327.50V330.10" stroke="#4169e1" stroke-width="0.7" fill="none"/><path d="M471.32,328.80H473.93M472.62,327.50V330.10" stroke="#4169e1" stroke-width="0.7" fill="none"/><path d="M475.23,328.80H477.83M476.53,327.50V330.10" stroke="#4169e1" stroke-width="0.7" fill="none"/><path d="M479.13,328.80H481.73M480.43,327.50V330.10" stroke="#4169e1" stroke-width="0.7" fill="none"/><path d="M483.04,328.80H485.64M484.34,327.50V330.10" stroke="#4169e1" stroke-width="0.7" fill="none"/><path d="M486.94,328.80H489.55M488.25,327.50V330.10" stroke="#4169e1" stroke-width="0.7" fill="none"/><path d="M490.85,328.80H493.45M492.15,327.50V330.10" stroke="#4169e1" stroke-width="0.7" fill="none"/><path d="M494.75,328.80H497.35M496.05,327.50V330.10" stroke="#4169e1" stroke-width="0.7" fill="none"/><path d="M498.66,328.80H501.26M499.96,327.50V330.10" stroke="#4169e1" stroke-width="0.7" fill="none"/><path d="M502.56,328.80H505.17M503.87,327.50V330.10" stroke="#4169e1" stroke-width="0.7" fill="none"/><path d="M506.47,328.80H509.07M507.77,327.50V330.10" stroke="#4169e1" stroke-width="0.7" fill="none"/><path d="M510.37,328.80H512.97M511.67,327.50V330.10" stroke="#4169e1" stroke-width="0.7" fill="none"/><path d="M514.28,328.80H516.88M515.58,327.50V330.10" stroke="#4169e1" stroke-width="0.7" fill="none"/><path d="M518.19,328.80H520.78M519.49,327.50V330.10" stroke="#4169e1" stroke-width="0.7" fill="none"/><path d="M522.09,328.80H524.69M523.39,327.50V330.10" stroke="#4169e1" stroke-width="0.7" fill="none"/><path d="M526.00,328.80H528.59M527.29,327.50V330.10" stroke="#4169e1" stroke-width="0.7" fill="none"/><path d="M529.90,328.80H532.50M531.20,327.50V330.10" stroke="#4169e1" stroke-width="0.7" fill="none"/>
<polyline points="339.85,256.50 343.76,346.00 347.66,350.20 351.57,350.20 355.47,350.20 359.38,350.20 363.28,350.20 367.19,350.20 371.09,350.20 375.00,350.20 378.90,350.20 382.81,350.20 386.71,350.20 390.62,350.20 394.52,350.20 398.43,350.20 402.33,350.20 406.24,350.20 410.14,350.20 414.05,350.20 417.95,350.20 421.86,350.20 425.76,350.20 429.67,350.20 433.57,350.20 437.48,350.20 441.38,350.20 445.29,350.20 449.19,350.20 453.10,350.20 457.00,350.20 460.91,350.20 464.81,350.20 468.72,350.20 472.62,350.20 476.53,350.20 480.43,350.20 484.34,350.20 488.25,350.20 492.15,350.20 496.05,350.20 499.96,350.20 503.87,350.20 507.77,350.20 511.67,350.20 515.58,350.20 519.49,350.20 523.39,350.20 527.29,350.20 531.20,350.20" fill="none" stroke="#9acd32" stroke-width="1.3" stroke-dasharray="1.2,2.0" stroke-linejoin="round"/>
<path d="M339.85,254.30L337.65,258.70L342.05,258.70Z" fill="#9acd32"/><path d="M343.76,343.80L341.56,348.20L345.96,348.20Z" fill="#9acd32"/><path d="M347.66,348.00L345.46,352.40L349.86,352.40Z" fill="#9acd32"/><path d="M351.57,348.00L349.37,352.40L353.77,352.40Z" fill="#9acd32"/><path d="M355.47,348.00L353.27,352.40L357.67,352.40Z" fill="#9acd32"/><path d="M359.38,348.00L357.18,352.40L361.58,352.40Z" fill="#9acd32"/><path d="M363.28,348.00L361.08,352.40L365.48,352.40Z" fill="#9acd32"/><path d="M367.19,348.00L364.99,352.40L369.39,352.40Z" fill="#9acd32"/><path d="M371.09,348.00L368.89,352.40L373.29,352.40Z" fill="#9acd32"/><path d="M375.00,348.00L372.80,352.40L377.20,352.40Z" fill="#9acd32"/><path d="M378.90,348.00L376.70,352.40L381.10,352.40Z" fill="#9acd32"/><path d="M382.81,348.00L380.61,352.40L385.01,352.40Z" fill="#9acd32"/><path d="M386.71,348.00L384.51,352.40L388.91,352.40Z" fill="#9acd32"/><path d="M390.62,348.00L388.42,352.40L392.82,352.40Z" fill="#9acd32"/><path d="M394.52,348.00L392.32,352.40L396.72,352.40Z" fill="#9acd32"/><path d="M398.43,348.00L396.23,352.40L400.63,352.40Z" fill="#9acd32"/><path d="M402.33,348.00L400.13,352.40L404.53,352.40Z" fill="#9acd32"/><path d="M406.24,348.00L404.04,352.40L408.44,352.40Z" fill="#9acd32"/><path d="M410.14,348.00L407.94,352.40L412.34,352.40Z" fill="#9acd32"/><path d="M414.05,348.00L411.85,352.40L416.25,352.40Z" fill="#9acd32"/><path d="M417.95,348.00L415.75,352.40L420.15,352.40Z" fill="#9acd32"/><path d="M421.86,348.00L419.66,352.40L424.06,352.40Z" fill="#9acd32"/><path d="M425.76,348.00L423.56,352.40L427.96,352.40Z" fill="#9acd32"/><path d="M429.67,348.00L427.47,352.40L431.87,352.40Z" fill="#9acd32"/><path d="M433.57,348.00L431.38,352.40L435.77,352.40Z" fill="#9acd32"/><path d="M437.48,348.00L435.28,352.40L439.68,352.40Z" fill="#9acd32"/><path d="M441.38,348.00L439.19,352.40L443.58,352.40Z" fill="#9acd32"/><path d="M445.29,348.00L443.09,352.40L447.49,352.40Z" fill="#9acd32"/><path d="M449.19,348.00L447.00,352.40L451.39,352.40Z" fill="#9acd32"/><path d="M453.10,348.00L450.90,352.40L455.30,352.40Z" fill="#9acd32"/><path d="M457.00,348.00L454.81,352.40L459.20,352.40Z" fill="#9acd32"/><path d="M460.91,348.00L458.71,352.40L463.11,352.40Z" fill="#9acd32"/><path d="M464.81,348.00L462.61,352.40L467.01,352.40Z" fill="#9acd32"/><path d="M468.72,348.00L466.52,352.40L470.92,352.40Z" fill="#9acd32"/><path d="M472.62,348.00L470.43,352.40L474.82,352.40Z" fill="#9acd32"/><path d="M476.53,348.00L474.33,352.40L478.73,352.40Z" fill="#9acd32"/><path d="M480.43,348.00L478.23,352.40L482.63,352.40Z" fill="#9acd32"/><path d="M484.34,348.00L482.14,352.40L486.54,352.40Z" fill="#9acd32"/><path d="M488.25,348.00L486.05,352.40L490.44,352.40Z" fill="#9acd32"/><path d="M492.15,348.00L489.95,352.40L494.35,352.40Z" fill="#9acd32"/><path d="M496.05,348.00L493.85,352.40L498.25,352.40Z" fill="#9acd32"/><path d="M499.96,348.00L497.76,352.40L502.16,352.40Z" fill="#9acd32"/><path d="M503.87,348.00L501.67,352.40L506.06,352.40Z" fill="#9acd32"/><path d="M507.77,348.00L505.57,352.40L509.97,352.40Z" fill="#9acd32"/><path d="M511.67,348.00L509.47,352.40L513.88,352.40Z" fill="#9acd32"/><path d="M515.58,348.00L513.38,352.40L517.78,352.40Z" fill="#9acd32"/><path d="M519.49,348.00L517.28,352.40L521.69,352.40Z" fill="#9acd32"/><path d="M523.39,348.00L521.19,352.40L525.59,352.40Z" fill="#9acd32"/><path d="M527.29,348.00L525.09,352.40L529.50,352.40Z" fill="#9acd32"/><path d="M531.20,348.00L529.00,352.40L533.40,352.40Z" fill="#9acd32"/>
<polyline points="339.85,246.60 343.76,300.00 347.66,308.00 351.57,310.60 355.47,310.60 359.38,310.60 363.28,310.60 367.19,310.60 371.09,310.60 375.00,310.60 378.90,310.60 382.81,310.60 386.71,314.20 390.62,314.20 394.52,316.30 398.43,316.30 402.33,316.30 406.24,316.30 410.14,316.30 414.05,316.30 417.95,316.30 421.86,316.30 425.76,317.20 429.67,317.20 433.57,317.20 437.48,317.20 441.38,317.20 445.29,317.20 449.19,317.20 453.10,317.20 457.00,317.20 460.91,317.20 464.81,317.20 468.72,317.20 472.62,317.20 476.53,317.20 480.43,317.20 484.34,317.20 488.25,317.20 492.15,317.20 496.05,317.20 499.96,317.20 503.87,317.20 507.77,317.20 511.67,317.20 515.58,317.20 519.49,317.20 523.39,317.20 527.29,317.20 531.20,317.20" fill="none" stroke="#ffff00" stroke-width="1.3" stroke-dasharray="1.2,2.0" stroke-linejoin="round"/>
<circle cx="339.85" cy="246.60" r="1.3" fill="#ffff00"/><circle cx="343.76" cy="300.00" r="1.3" fill="#ffff00"/><circle cx="347.66" cy="308.00" r="1.3" fill="#ffff00"/><circle cx="351.57" cy="310.60" r="1.3" fill="#ffff00"/><circle cx="355.47" cy="310.60" r="1.3" fill="#ffff00"/><circle cx="359.38" cy="310.60" r="1.3" fill="#ffff00"/><circle cx="363.28" cy="310.60" r="1.3" fill="#ffff00"/><circle cx="367.19" cy="310.60" r="1.3" fill="#ffff00"/><circle cx="371.09" cy="310.60" r="1.3" fill="#ffff00"/><circle cx="375.00" cy="310.60" r="1.3" fill="#ffff00"/><circle cx="378.90" cy="310.60" r="1.3" fill="#ffff00"/><circle cx="382.81" cy="310.60" r="1.3" fill="#ffff00"/><circle cx="386.71" cy="314.20" r="1.3" fill="#ffff00"/><circle cx="390.62" cy="314.20" r="1.3" fill="#ffff00"/><circle cx="394.52" cy="316.30" r="1.3" fill="#ffff00"/><circle cx="398.43" cy="316.30" r="1.3" fill="#ffff00"/><circle cx="402.33" cy="316.30" r="1.3" fill="#ffff00"/><circle cx="406.24" cy="316.30" r="1.3" fill="#ffff00"/><circle cx="410.14" cy="316.30" r="1.3" fill="#ffff00"/><circle cx="414.05" cy="316.30" r="1.3" fill="#ffff00"/><circle cx="417.95" cy="316.30" r="1.3" fill="#ffff00"/><circle cx="421.86" cy="316.30" r="1.3" fill="#ffff00"/><circle cx="425.76" cy="317.20" r="1.3" fill="#ffff00"/><circle cx="429.67" cy="317.20" r="1.3" fill="#ffff00"/><circle cx="433.57" cy="317.20" r="1.3" fill="#ffff00"/><circle cx="437.48" cy="317.20" r="1.3" fill="#ffff00"/><circle cx="441.38" cy="317.20" r="1.3" fill="#ffff00"/><circle cx="445.29" cy="317.20" r="1.3" fill="#ffff00"/><circle cx="449.19" cy="317.20" r="1.3" fill="#ffff00"/><circle cx="453.10" cy="317.20" r="1.3" fill="#ffff00"/><circle cx="457.00" cy="317.20" r="1.3" fill="#ffff00"/><circle cx="460.91" cy="317.20" r="1.3" fill="#ffff00"/><circle cx="464.81" cy="317.20" r="1.3" fill="#ffff00"/><circle cx="468.72" cy="317.20" r="1.3" fill="#ffff00"/><circle cx="472.62" cy="317.20" r="1.3" fill="#ffff00"/><circle cx="476.53" cy="317.20" r="1.3" fill="#ffff00"/><circle cx="480.43" cy="317.20" r="1.3" fill="#ffff00"/><circle cx="484.34" cy="317.20" r="1.3" fill="#ffff00"/><circle cx="488.25" cy="317.20" r="1.3" fill="#ffff00"/><circle cx="492.15" cy="317.20" r="1.3" fill="#ffff00"/><circle cx="496.05" cy="317.20" r="1.3" fill="#ffff00"/><circle cx="499.96" cy="317.20" r="1.3" fill="#ffff00"/><circle cx="503.87" cy="317.20" r="1.3" fill="#ffff00"/><circle cx="507.77" cy="317.20" r="1.3" fill="#ffff00"/><circle cx="511.67" cy="317.20" r="1.3" fill="#ffff00"/><circle cx="515.58" cy="317.20" r="1.3" fill="#ffff00"/><circle cx="519.49" cy="317.20" r="1.3" fill="#ffff00"/><circle cx="523.39" cy="317.20" r="1.3" fill="#ffff00"/><circle cx="527.29" cy="317.20" r="1.3" fill="#ffff00"/><circle cx="531.20" cy="317.20" r="1.3" fill="#ffff00"/>
</svg>
<rect x="360.4" y="242.8" width="178.60000000000002" height="19.0" rx="1.2" fill="#fff" fill-opacity="0.8" stroke="#cccccc" stroke-width="0.5"/>
<path d="M361.80,247.60h12.8" stroke="#ff0000" stroke-width="1.3" fill="none"/>
<circle cx="368.20" cy="247.60" r="2.0" fill="#ff0000"/>
<text x="379.10" y="249.80" font-size="6.2" text-anchor="start" textLength="28.43" lengthAdjust="spacingAndGlyphs">BWO-BOA</text>
<path d="M361.80,256.50h12.8" stroke="#ff8c00" stroke-width="1.3" stroke-dasharray="7.7,1.9,1.2,1.9" fill="none"/>
<circle cx="368.20" cy="256.50" r="1.5" fill="#ff8c00"/>
<text x="379.10" y="258.70" font-size="6.2" text-anchor="start" textLength="12.31" lengthAdjust="spacingAndGlyphs">BOA</text>
<path d="M419.10,247.60h12.8" stroke="#0000ff" stroke-width="1.3" fill="none"/>
<circle cx="425.50" cy="247.60" r="2.0" fill="#0000ff"/>
<text x="436.40" y="249.80" font-size="6.2" text-anchor="start" textLength="14.07" lengthAdjust="spacingAndGlyphs">BWO</text>
<path d="M419.10,256.50h12.8" stroke="#ff69b4" stroke-width="1.3" stroke-dasharray="4.5,1.9" fill="none"/>
<path d="M425.50,258.65L423.35,254.35L427.65,254.35Z" fill="#ff69b4"/>
<text x="436.40" y="258.70" font-size="6.2" text-anchor="start" textLength="11.74" lengthAdjust="spacingAndGlyphs">PSO</text>
<path d="M461.00,247.60h12.8" stroke="#4169e1" stroke-width="1.3" stroke-dasharray="4.5,1.9" fill="none"/>
<path d="M466.10,247.60H468.70M467.40,246.30V248.90" stroke="#4169e1" stroke-width="0.7" fill="none"/>
<text x="478.30" y="249.80" font-size="6.2" text-anchor="start" textLength="11.44" lengthAdjust="spacingAndGlyphs">SSA</text>
<path d="M461.00,256.50h12.8" stroke="#9acd32" stroke-width="1.3" stroke-dasharray="1.2,2.0" fill="none"/>
<path d="M467.40,254.30L465.20,258.70L469.60,258.70Z" fill="#9acd32"/>
<text x="478.30" y="258.70" font-size="6.2" text-anchor="start" textLength="14.02" lengthAdjust="spacingAndGlyphs">IBOA</text>
<path d="M503.80,247.60h12.8" stroke="#ffff00" stroke-width="1.3" stroke-dasharray="1.2,2.0" fill="none"/>
<circle cx="510.20" cy="247.60" r="1.3" fill="#ffff00"/>
<text x="521.10" y="249.80" font-size="6.2" text-anchor="start" textLength="14.17" lengthAdjust="spacingAndGlyphs">WOA</text>
<rect x="330.6" y="239.6" width="210.60" height="157.10" fill="none" stroke="#333" stroke-width="0.75"/>
<path d="M335.95,396.70v2.2M375.00,396.70v2.2M414.05,396.70v2.2M453.10,396.70v2.2M492.15,396.70v2.2M531.20,396.70v2.2M330.60,379.00h-2.0M330.60,353.82h-2.0M330.60,328.64h-2.0M330.60,303.46h-2.0M330.60,278.28h-2.0M330.60,253.10h-2.0" stroke="#333" stroke-width="0.7" fill="none"/>
<text x="335.95" y="405.90" font-size="5.77" text-anchor="middle" textLength="3.56" lengthAdjust="spacingAndGlyphs">0</text>
<text x="375.00" y="405.90" font-size="5.77" text-anchor="middle" textLength="7.12" lengthAdjust="spacingAndGlyphs">10</text>
<text x="414.05" y="405.90" font-size="5.77" text-anchor="middle" textLength="7.12" lengthAdjust="spacingAndGlyphs">20</text>
<text x="453.10" y="405.90" font-size="5.77" text-anchor="middle" textLength="7.12" lengthAdjust="spacingAndGlyphs">30</text>
<text x="492.15" y="405.90" font-size="5.77" text-anchor="middle" textLength="7.12" lengthAdjust="spacingAndGlyphs">40</text>
<text x="531.20" y="405.90" font-size="5.77" text-anchor="middle" textLength="7.12" lengthAdjust="spacingAndGlyphs">50</text>
<text x="326.10" y="381.05" font-size="5.77" text-anchor="end" textLength="16.02" lengthAdjust="spacingAndGlyphs">0.045</text>
<text x="326.10" y="355.87" font-size="5.77" text-anchor="end" textLength="16.02" lengthAdjust="spacingAndGlyphs">0.050</text>
<text x="326.10" y="330.69" font-size="5.77" text-anchor="end" textLength="16.02" lengthAdjust="spacingAndGlyphs">0.055</text>
<text x="326.10" y="305.51" font-size="5.77" text-anchor="end" textLength="16.02" lengthAdjust="spacingAndGlyphs">0.060</text>
<text x="326.10" y="280.33" font-size="5.77" text-anchor="end" textLength="16.02" lengthAdjust="spacingAndGlyphs">0.065</text>
<text x="326.10" y="255.15" font-size="5.77" text-anchor="end" textLength="16.02" lengthAdjust="spacingAndGlyphs">0.070</text>
<text x="435.90" y="235.80" font-size="7.5" text-anchor="middle" textLength="47.91" lengthAdjust="spacingAndGlyphs">30% Data Set</text>
<text x="435.90" y="413.30" font-size="6.0" text-anchor="middle" textLength="60.41" lengthAdjust="spacingAndGlyphs">Number of Iterations</text>
<text x="0" y="0" font-size="6.0" text-anchor="middle" textLength="20.19" lengthAdjust="spacingAndGlyphs" transform="translate(306.30,318.95) rotate(-90)">Fitness</text>
<text x="432.40" y="432.30" font-size="13.0" text-anchor="middle" class="cap">(<tspan font-weight="bold" style="stroke-width:0">d</tspan>)</text>
</svg>
</body></html>
